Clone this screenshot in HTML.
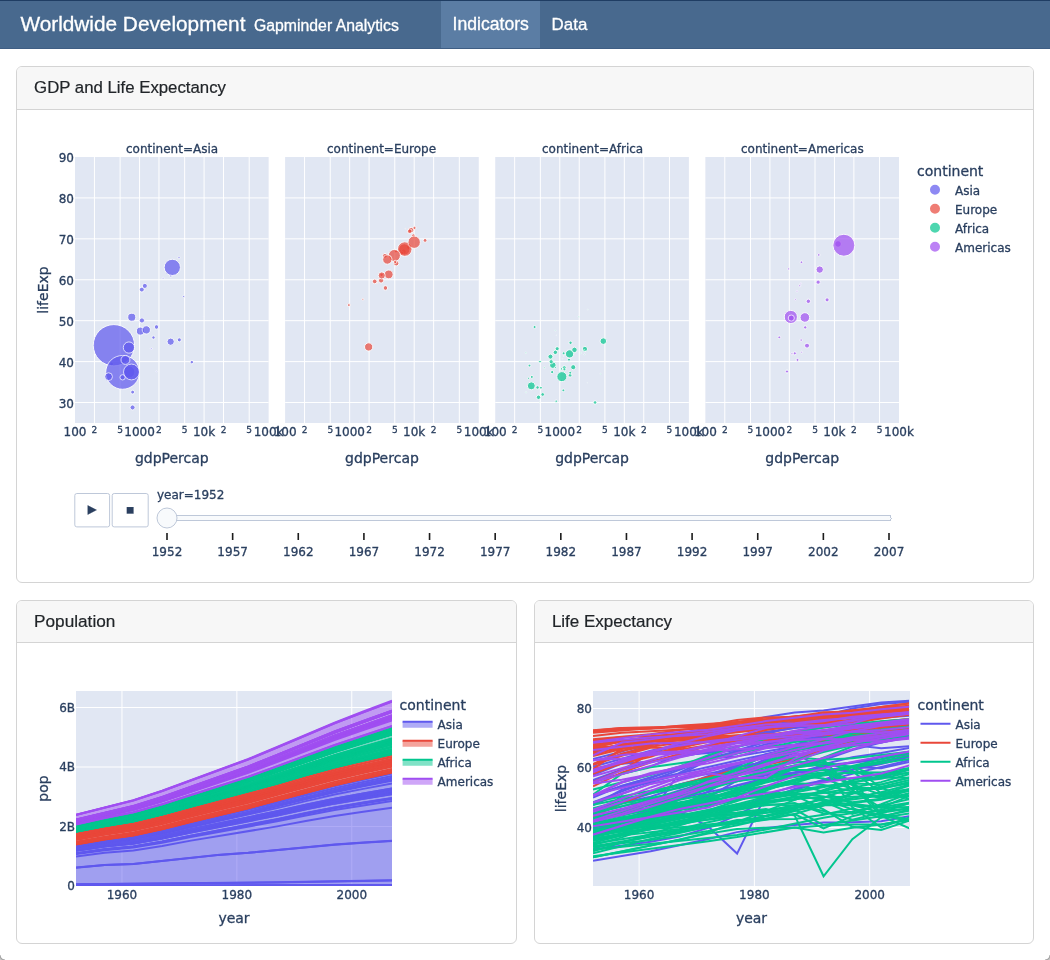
<!DOCTYPE html>
<html lang="en"><head><meta charset="utf-8"><title>Worldwide Development</title>
<style>
*{box-sizing:border-box}
html,body{margin:0;padding:0}
body{width:1050px;height:960px;overflow:hidden;background:#fff;font-family:"Liberation Sans",Arial,sans-serif;font-size:16px;color:#212529;position:relative}
.nav{position:absolute;left:0;top:0;width:1050px;height:48.8px;background:#48698e;border-top:1px solid #1f3d63;border-bottom:1px solid #3f5e84;color:#fff}
.nav span{position:absolute;white-space:nowrap;-webkit-text-stroke:0.3px #fff}
.nav .brand{left:20.4px;top:7.6px;font-size:20.8px;line-height:30px}
.nav .sub{left:254px;top:12.7px;font-size:15.8px;line-height:24px}
.nav .tab{top:0;height:46.8px;line-height:47.4px;font-size:17.6px;padding:0 11.6px}
.nav .tab.active{background:#5b7da4}
.cnr{position:absolute;bottom:0;width:5px;height:5px}
.card{position:absolute;background:#fff;border:1px solid #d4d4d4;border-radius:6px;overflow:hidden}
.card .hd{height:42.6px;background:#f7f7f7;border-bottom:1px solid #d4d4d4;padding:0 0 0 17px;font-size:17px;line-height:41.8px;white-space:nowrap;-webkit-text-stroke:.2px #212529}
.card .plot{position:absolute;left:16px;top:59.7px}
.plot svg{position:absolute;left:0;top:0;overflow:hidden}
.plot text{white-space:pre;stroke:#2a3f5f;stroke-width:.3px}
.p0{fill:rgb(225, 231, 243);fill-opacity:1;stroke-width:0}
.p1{stroke:rgb(255, 255, 255);stroke-opacity:1;stroke-width:1px}
.p2{opacity:0.7;stroke-width:1px;fill:rgb(95, 88, 238);fill-opacity:1;stroke:rgb(255, 255, 255);stroke-opacity:1}
.p3{stroke-miterlimit:2;opacity:1}
.p4{fill:none}
.p5{font-family:"DejaVu Sans", Verdana, sans-serif;font-size:12px;fill:rgb(42, 63, 95);fill-opacity:1;font-weight:normal;font-style:normal;font-variant:normal;white-space:pre}
.p6{font-family:"DejaVu Sans", Verdana, sans-serif;font-size:9px;fill:rgb(42, 63, 95);fill-opacity:1;font-weight:normal;font-style:normal;font-variant:normal;white-space:pre}
.p7{opacity:0.7;stroke-width:1px;fill:rgb(233, 71, 58);fill-opacity:1;stroke:rgb(255, 255, 255);stroke-opacity:1}
.p8{opacity:0.7;stroke-width:1px;fill:rgb(2, 198, 142);fill-opacity:1;stroke:rgb(255, 255, 255);stroke-opacity:1}
.p9{opacity:0.7;stroke-width:1px;fill:rgb(160, 78, 241);fill-opacity:1;stroke:rgb(255, 255, 255);stroke-opacity:1}
.pa{background:white}
.pb{stroke:rgb(68, 68, 68);stroke-opacity:1;fill:rgb(255, 255, 255);fill-opacity:1;stroke-width:0px}
.pc{font-family:"DejaVu Sans", Verdana, sans-serif;font-size:14px;fill:rgb(42, 63, 95);fill-opacity:1;font-weight:normal;font-style:normal;font-variant:normal;white-space:pre}
.pd{opacity:0.7;stroke-width:2px;fill:rgb(95, 88, 238);fill-opacity:1;stroke:rgb(255, 255, 255);stroke-opacity:1}
.pe{opacity:1}
.pf{fill:rgb(0, 0, 0);fill-opacity:0}
.pg{opacity:0.7;stroke-width:2px;fill:rgb(233, 71, 58);fill-opacity:1;stroke:rgb(255, 255, 255);stroke-opacity:1}
.ph{opacity:0.7;stroke-width:2px;fill:rgb(2, 198, 142);fill-opacity:1;stroke:rgb(255, 255, 255);stroke-opacity:1}
.pi{opacity:0.7;stroke-width:2px;fill:rgb(160, 78, 241);fill-opacity:1;stroke:rgb(255, 255, 255);stroke-opacity:1}
.pj{fill:rgb(128, 139, 164);fill-opacity:1}
.pk{stroke:rgb(190, 200, 217);stroke-opacity:1;fill:rgb(248, 250, 252);fill-opacity:1;stroke-width:1px}
.pl{fill:rgb(28, 28, 28);fill-opacity:1}
.pm{fill:rgb(248, 250, 252);fill-opacity:1}
.pn{opacity:1;font-family:"DejaVu Sans", Verdana, sans-serif;font-size:14px;fill:rgb(42, 63, 95);fill-opacity:1;font-weight:normal;font-style:normal;font-variant:normal;white-space:pre}
.po{stroke-width:1px;stroke:rgb(0, 0, 0);stroke-opacity:0;fill:rgb(0, 0, 0);fill-opacity:0}
.pp{stroke:rgb(190, 200, 217);stroke-opacity:1;fill:rgb(255, 255, 255);fill-opacity:1;stroke-width:1px}
.pq{font-family:"DejaVu Sans", Verdana, sans-serif;font-size:11.5px;fill:rgb(42, 63, 95);fill-opacity:1;font-weight:normal;font-style:normal;font-variant:normal;white-space:pre}
.pr{font-family:"DejaVu Sans", Verdana, sans-serif;font-size:10px;fill:rgb(42, 63, 95);fill-opacity:1;font-weight:normal;font-style:normal;font-variant:normal;white-space:pre}
.ps{stroke:rgb(255, 255, 255);stroke-opacity:1;stroke-width:2px}
.pt{fill:rgb(95, 88, 238);fill-opacity:0.5;stroke-width:0}
.pu{fill:none;stroke:rgb(95, 88, 238);stroke-opacity:1;stroke-width:2px;opacity:1}
.pv{stroke-miterlimit:2}
.pw{fill:rgb(233, 71, 58);fill-opacity:0.5;stroke-width:0}
.px{fill:none;stroke:rgb(233, 71, 58);stroke-opacity:1;stroke-width:2px;opacity:1}
.py{fill:rgb(2, 198, 142);fill-opacity:0.5;stroke-width:0}
.pz{fill:none;stroke:rgb(2, 198, 142);stroke-opacity:1;stroke-width:2px;opacity:1}
.p10{fill:rgb(160, 78, 241);fill-opacity:0.5;stroke-width:0}
.p11{fill:none;stroke:rgb(160, 78, 241);stroke-opacity:1;stroke-width:2px;opacity:1}
.p12{stroke-width:0;fill:rgb(95, 88, 238);fill-opacity:0.5}
.p13{fill:none;stroke:rgb(95, 88, 238);stroke-opacity:1;stroke-width:2px}
.p14{stroke-width:0;fill:rgb(233, 71, 58);fill-opacity:0.5}
.p15{fill:none;stroke:rgb(233, 71, 58);stroke-opacity:1;stroke-width:2px}
.p16{stroke-width:0;fill:rgb(2, 198, 142);fill-opacity:0.5}
.p17{fill:none;stroke:rgb(2, 198, 142);stroke-opacity:1;stroke-width:2px}
.p18{stroke-width:0;fill:rgb(160, 78, 241);fill-opacity:0.5}
.p19{fill:none;stroke:rgb(160, 78, 241);stroke-opacity:1;stroke-width:2px}
</style></head><body>
<div class="nav"><span class="brand">Worldwide Development</span><span class="sub">Gapminder Analytics</span>
<span class="tab active" style="left:441px;width:99px">Indicators</span><span class="tab" style="left:540px;font-size:16.9px">Data</span></div>
<div class="card" style="left:16.1px;top:66.2px;width:1018px;height:516.7px"><div class="hd" style="font-size:16.8px">GDP and Life Expectancy</div><div class="plot" id="p1" style="left:15.9px;top:60.1px"><div style="position:relative;width:983px;height:436px"><svg width="983" height="436" class="pa"><defs><g><clipPath id="p1c0"><rect width="193.64" height="266"/></clipPath><clipPath id="p1c1"><rect width="193.64" height="266"/></clipPath><clipPath id="p1c2"><rect width="193.64" height="266"/></clipPath><clipPath id="p1c3"><rect width="193.64" height="266"/></clipPath></g></defs><g><rect x="42" y="30" width="193.64" height="266" class="p0"/><rect x="252.12" y="30" width="193.64" height="266" class="p0"/><rect x="462.24" y="30" width="193.64" height="266" class="p0"/><rect x="672.36" y="30" width="193.64" height="266" class="p0"/></g><g><g><g><g><path transform="translate(61.43,0)" d="M0,30v266" class="p1"/><path transform="translate(87.12,0)" d="M0,30v266" class="p1"/><path transform="translate(106.55,0)" d="M0,30v266" class="p1"/><path transform="translate(125.98,0)" d="M0,30v266" class="p1"/><path transform="translate(151.66,0)" d="M0,30v266" class="p1"/><path transform="translate(171.09,0)" d="M0,30v266" class="p1"/><path transform="translate(190.52,0)" d="M0,30v266" class="p1"/><path transform="translate(216.21,0)" d="M0,30v266" class="p1"/></g><g><path transform="translate(0,275.54)" d="M42,0h193.64" class="p1"/><path transform="translate(0,234.62)" d="M42,0h193.64" class="p1"/><path transform="translate(0,193.69)" d="M42,0h193.64" class="p1"/><path transform="translate(0,152.77)" d="M42,0h193.64" class="p1"/><path transform="translate(0,111.85)" d="M42,0h193.64" class="p1"/><path transform="translate(0,70.92)" d="M42,0h193.64" class="p1"/></g></g><path/><path/><g><g transform="translate(42,30)" clip-path="url(#p1c0)"><g><g class="p3"><g><path transform="translate(57.56,250.45)" d="M2.54,0A2.54,2.54 0 1,1 0,-2.54A2.54,2.54 0 0,1 2.54,0Z" class="p2"/><path transform="translate(128.72,159.85)" d="M0.3,0A0.3,0.3 0 1,1 0,-0.3A0.3,0.3 0 0,1 0.3,0Z" class="p2"/><path transform="translate(53.91,214.91)" d="M6,0A6,6 0 1,1 0,-6A6,6 0 0,1 6,0Z" class="p2"/><path transform="translate(36.56,207)" d="M1.9,0A1.9,1.9 0 1,1 0,-1.9A1.9,1.9 0 0,1 1.9,0Z" class="p2"/><path transform="translate(38.89,188.25)" d="M20.67,0A20.67,20.67 0 1,1 0,-20.67A20.67,20.67 0 0,1 20.67,0Z" class="p2"/><path transform="translate(95.85,118.84)" d="M1.28,0A1.28,1.28 0 1,1 0,-1.28A1.28,1.28 0 0,1 1.28,0Z" class="p2"/><path transform="translate(47.61,215.37)" d="M16.9,0A16.9,16.9 0 1,1 0,-16.9A16.9,16.9 0 0,1 16.9,0Z" class="p2"/><path transform="translate(56.47,214.98)" d="M7.94,0A7.94,7.94 0 1,1 0,-7.94A7.94,7.94 0 0,1 7.94,0Z" class="p2"/><path transform="translate(95.67,184.69)" d="M3.64,0A3.64,3.64 0 1,1 0,-3.64A3.64,3.64 0 0,1 3.64,0Z" class="p2"/><path transform="translate(104.3,182.84)" d="M2.04,0A2.04,2.04 0 1,1 0,-2.04A2.04,2.04 0 0,1 2.04,0Z" class="p2"/><path transform="translate(104.01,100.71)" d="M1.12,0A1.12,1.12 0 1,1 0,-1.12A1.12,1.12 0 0,1 1.12,0Z" class="p2"/><path transform="translate(97.3,110.37)" d="M8.15,0A8.15,8.15 0 1,1 0,-8.15A8.15,8.15 0 0,1 8.15,0Z" class="p2"/><path transform="translate(76.78,191.69)" d="M0.68,0A0.68,0.68 0 1,1 0,-0.68A0.68,0.68 0 0,1 0.68,0Z" class="p2"/><path transform="translate(66.92,163.46)" d="M2.61,0A2.61,2.61 0 1,1 0,-2.61A2.61,2.61 0 0,1 2.61,0Z" class="p2"/><path transform="translate(65.39,174.12)" d="M4.01,0A4.01,4.01 0 1,1 0,-4.01A4.01,4.01 0 0,1 4.01,0Z" class="p2"/><path transform="translate(195.9,140.92)" d="M0.35,0A0.35,0.35 0 1,1 0,-0.35A0.35,0.35 0 0,1 0.35,0Z" class="p2"/><path transform="translate(108.72,139.43)" d="M1.05,0A1.05,1.05 0 1,1 0,-1.05A1.05,1.05 0 0,1 1.05,0Z" class="p2"/><path transform="translate(81.5,169.98)" d="M2.28,0A2.28,2.28 0 1,1 0,-2.28A2.28,2.28 0 0,1 2.28,0Z" class="p2"/><path transform="translate(57.82,195.43)" d="M0.78,0A0.78,0.78 0 1,1 0,-0.78A0.78,0.78 0 0,1 0.78,0Z" class="p2"/><path transform="translate(33.55,219.68)" d="M3.93,0A3.93,3.93 0 1,1 0,-3.93A3.93,3.93 0 0,1 3.93,0Z" class="p2"/><path transform="translate(47.58,220.34)" d="M2.66,0A2.66,2.66 0 1,1 0,-2.66A2.66,2.66 0 0,1 2.66,0Z" class="p2"/><path transform="translate(81.46,214.53)" d="M0.62,0A0.62,0.62 0 1,1 0,-0.62A0.62,0.62 0 0,1 0.62,0Z" class="p2"/><path transform="translate(53.92,190.55)" d="M5.63,0A5.63,5.63 0 1,1 0,-5.63A5.63,5.63 0 0,1 5.63,0Z" class="p2"/><path transform="translate(71.31,172.89)" d="M4.15,0A4.15,4.15 0 1,1 0,-4.15A4.15,4.15 0 0,1 4.15,0Z" class="p2"/><path transform="translate(116.84,205.13)" d="M1.75,0A1.75,1.75 0 1,1 0,-1.75A1.75,1.75 0 0,1 1.75,0Z" class="p2"/><path transform="translate(88.08,121.15)" d="M0.93,0A0.93,0.93 0 1,1 0,-0.93A0.93,0.93 0 0,1 0.93,0Z" class="p2"/><path transform="translate(66.8,132.62)" d="M2.48,0A2.48,2.48 0 1,1 0,-2.48A2.48,2.48 0 0,1 2.48,0Z" class="p2"/><path transform="translate(78.47,180.54)" d="M1.68,0A1.68,1.68 0 1,1 0,-1.68A1.68,1.68 0 0,1 1.68,0Z" class="p2"/><path transform="translate(69.82,128.91)" d="M2.56,0A2.56,2.56 0 1,1 0,-2.56A2.56,2.56 0 0,1 2.56,0Z" class="p2"/><path transform="translate(56.77,160.22)" d="M4.04,0A4.04,4.04 0 1,1 0,-4.04A4.04,4.04 0 0,1 4.04,0Z" class="p2"/><path transform="translate(50.46,202.93)" d="M4.49,0A4.49,4.49 0 1,1 0,-4.49A4.49,4.49 0 0,1 4.49,0Z" class="p2"/><path transform="translate(76.2,191.68)" d="M0.89,0A0.89,0.89 0 1,1 0,-0.89A0.89,0.89 0 0,1 0.89,0Z" class="p2"/><path transform="translate(57.64,235.11)" d="M1.95,0A1.95,1.95 0 1,1 0,-1.95A1.95,1.95 0 0,1 1.95,0Z" class="p2"/></g></g></g></g></g><path d="M0,0" class="p4"/><path d="M0,0" class="p4"/><g><g><text text-anchor="middle" x="0" y="309" transform="translate(42,0)" class="p5">100</text></g><g><text text-anchor="middle" x="0" y="306" class="p6" transform="translate(61.43,0)">2</text></g><g><text text-anchor="middle" x="0" y="306" class="p6" transform="translate(87.12,0)">5</text></g><g><text text-anchor="middle" x="0" y="309" class="p5" transform="translate(106.55,0)">1000</text></g><g><text text-anchor="middle" x="0" y="306" class="p6" transform="translate(125.98,0)">2</text></g><g><text text-anchor="middle" x="0" y="306" class="p6" transform="translate(151.66,0)">5</text></g><g><text text-anchor="middle" x="0" y="309" class="p5" transform="translate(171.09,0)">10k</text></g><g><text text-anchor="middle" x="0" y="306" class="p6" transform="translate(190.52,0)">2</text></g><g><text text-anchor="middle" x="0" y="306" class="p6" transform="translate(216.21,0)">5</text></g><g><text text-anchor="middle" x="0" y="309" class="p5" transform="translate(235.64,0)">100k</text></g></g><g><g><text text-anchor="end" x="41" y="5.20" transform="translate(0,275.54)" class="p5">30</text></g><g><text text-anchor="end" x="41" y="5.20" class="p5" transform="translate(0,234.62)">40</text></g><g><text text-anchor="end" x="41" y="5.20" class="p5" transform="translate(0,193.69)">50</text></g><g><text text-anchor="end" x="41" y="5.20" class="p5" transform="translate(0,152.77)">60</text></g><g><text text-anchor="end" x="41" y="5.20" class="p5" transform="translate(0,111.85)">70</text></g><g><text text-anchor="end" x="41" y="5.20" class="p5" transform="translate(0,70.92)">80</text></g><g><text text-anchor="end" x="41" y="5.20" class="p5" transform="translate(0,30)">90</text></g></g></g><g><g><g><path transform="translate(271.55,0)" d="M0,30v266" class="p1"/><path transform="translate(297.24,0)" d="M0,30v266" class="p1"/><path transform="translate(316.67,0)" d="M0,30v266" class="p1"/><path transform="translate(336.1,0)" d="M0,30v266" class="p1"/><path transform="translate(361.78,0)" d="M0,30v266" class="p1"/><path transform="translate(381.21,0)" d="M0,30v266" class="p1"/><path transform="translate(400.64,0)" d="M0,30v266" class="p1"/><path transform="translate(426.33,0)" d="M0,30v266" class="p1"/></g><g><path transform="translate(0,275.54)" d="M252.12,0h193.64" class="p1"/><path transform="translate(0,234.62)" d="M252.12,0h193.64" class="p1"/><path transform="translate(0,193.69)" d="M252.12,0h193.64" class="p1"/><path transform="translate(0,152.77)" d="M252.12,0h193.64" class="p1"/><path transform="translate(0,111.85)" d="M252.12,0h193.64" class="p1"/><path transform="translate(0,70.92)" d="M252.12,0h193.64" class="p1"/></g></g><path/><path/><g><g transform="translate(252.12,30)" clip-path="url(#p1c1)"><g><g class="p3"><g><path transform="translate(77.74,142.29)" d="M0.99,0A0.99,0.99 0 1,1 0,-0.99A0.99,0.99 0 0,1 0.99,0Z" class="p7"/><path transform="translate(115.41,94.94)" d="M2.31,0A2.31,2.31 0 1,1 0,-2.31A2.31,2.31 0 0,1 2.31,0Z" class="p7"/><path transform="translate(124.02,90.03)" d="M2.59,0A2.59,2.59 0 1,1 0,-2.59A2.59,2.59 0 0,1 2.59,0Z" class="p7"/><path transform="translate(63.79,148.06)" d="M1.46,0A1.46,1.46 0 1,1 0,-1.46A1.46,1.46 0 0,1 1.46,0Z" class="p7"/><path transform="translate(89.6,124.41)" d="M2.36,0A2.36,2.36 0 1,1 0,-2.36A2.36,2.36 0 0,1 2.36,0Z" class="p7"/><path transform="translate(96.44,117.82)" d="M1.73,0A1.73,1.73 0 1,1 0,-1.73A1.73,1.73 0 0,1 1.73,0Z" class="p7"/><path transform="translate(118.59,94.66)" d="M2.65,0A2.65,2.65 0 1,1 0,-2.65A2.65,2.65 0 0,1 2.65,0Z" class="p7"/><path transform="translate(128.22,78.65)" d="M1.82,0A1.82,1.82 0 1,1 0,-1.82A1.82,1.82 0 0,1 1.82,0Z" class="p7"/><path transform="translate(116.69,95.96)" d="M1.77,0A1.77,1.77 0 1,1 0,-1.77A1.77,1.77 0 0,1 1.77,0Z" class="p7"/><path transform="translate(119.21,92.45)" d="M5.71,0A5.71,5.71 0 1,1 0,-5.71A5.71,5.71 0 0,1 5.71,0Z" class="p7"/><path transform="translate(119.67,92.08)" d="M7.29,0A7.29,7.29 0 1,1 0,-7.29A7.29,7.29 0 0,1 7.29,0Z" class="p7"/><path transform="translate(99.91,98.79)" d="M2.44,0A2.44,2.44 0 1,1 0,-2.44A2.44,2.44 0 0,1 2.44,0Z" class="p7"/><path transform="translate(111.1,106.28)" d="M2.7,0A2.7,2.7 0 1,1 0,-2.7A2.7,2.7 0 0,1 2.7,0Z" class="p7"/><path transform="translate(120.15,71.66)" d="M0.34,0A0.34,0.34 0 1,1 0,-0.34A0.34,0.34 0 0,1 0.34,0Z" class="p7"/><path transform="translate(110.82,94.49)" d="M1.51,0A1.51,1.51 0 1,1 0,-1.51A1.51,1.51 0 0,1 1.51,0Z" class="p7"/><path transform="translate(109.28,98.46)" d="M6.05,0A6.05,6.05 0 1,1 0,-6.05A6.05,6.05 0 0,1 6.05,0Z" class="p7"/><path transform="translate(91.84,126.19)" d="M0.56,0A0.56,0.56 0 1,1 0,-0.56A0.56,0.56 0 0,1 0.56,0Z" class="p7"/><path transform="translate(125.96,73.13)" d="M2.82,0A2.82,2.82 0 1,1 0,-2.82A2.82,2.82 0 0,1 2.82,0Z" class="p7"/><path transform="translate(129.36,70.92)" d="M1.6,0A1.6,1.6 0 1,1 0,-1.6A1.6,1.6 0 0,1 1.6,0Z" class="p7"/><path transform="translate(103.61,117.41)" d="M4.44,0A4.44,4.44 0 1,1 0,-4.44A4.44,4.44 0 0,1 4.44,0Z" class="p7"/><path transform="translate(95.97,123.51)" d="M2.56,0A2.56,2.56 0 1,1 0,-2.56A2.56,2.56 0 0,1 2.56,0Z" class="p7"/><path transform="translate(96.66,118.47)" d="M3.57,0A3.57,3.57 0 1,1 0,-3.57A3.57,3.57 0 0,1 3.57,0Z" class="p7"/><path transform="translate(100.31,130.97)" d="M2.3,0A2.3,2.3 0 1,1 0,-2.3A2.3,2.3 0 0,1 2.3,0Z" class="p7"/><path transform="translate(110.08,104.93)" d="M1.65,0A1.65,1.65 0 1,1 0,-1.65A1.65,1.65 0 0,1 1.65,0Z" class="p7"/><path transform="translate(104.88,99.98)" d="M1.07,0A1.07,1.07 0 1,1 0,-1.07A1.07,1.07 0 0,1 1.07,0Z" class="p7"/><path transform="translate(102.22,102.55)" d="M4.68,0A4.68,4.68 0 1,1 0,-4.68A4.68,4.68 0 0,1 4.68,0Z" class="p7"/><path transform="translate(124.63,74.23)" d="M2.34,0A2.34,2.34 0 1,1 0,-2.34A2.34,2.34 0 0,1 2.34,0Z" class="p7"/><path transform="translate(139.96,83.4)" d="M1.92,0A1.92,1.92 0 1,1 0,-1.92A1.92,1.92 0 0,1 1.92,0Z" class="p7"/><path transform="translate(83.54,189.94)" d="M4.13,0A4.13,4.13 0 1,1 0,-4.13A4.13,4.13 0 0,1 4.13,0Z" class="p7"/><path transform="translate(129.04,85.2)" d="M6.22,0A6.22,6.22 0 1,1 0,-6.22A6.22,6.22 0 0,1 6.22,0Z" class="p7"/></g></g></g></g></g><path d="M0,0" class="p4"/><path d="M0,0" class="p4"/><g><g><text text-anchor="middle" x="0" y="309" transform="translate(252.12,0)" class="p5">100</text></g><g><text text-anchor="middle" x="0" y="306" class="p6" transform="translate(271.55,0)">2</text></g><g><text text-anchor="middle" x="0" y="306" class="p6" transform="translate(297.24,0)">5</text></g><g><text text-anchor="middle" x="0" y="309" class="p5" transform="translate(316.67,0)">1000</text></g><g><text text-anchor="middle" x="0" y="306" class="p6" transform="translate(336.1,0)">2</text></g><g><text text-anchor="middle" x="0" y="306" class="p6" transform="translate(361.78,0)">5</text></g><g><text text-anchor="middle" x="0" y="309" class="p5" transform="translate(381.21,0)">10k</text></g><g><text text-anchor="middle" x="0" y="306" class="p6" transform="translate(400.64,0)">2</text></g><g><text text-anchor="middle" x="0" y="306" class="p6" transform="translate(426.33,0)">5</text></g><g><text text-anchor="middle" x="0" y="309" class="p5" transform="translate(445.76,0)">100k</text></g></g></g><g><g><g><path transform="translate(481.67,0)" d="M0,30v266" class="p1"/><path transform="translate(507.36,0)" d="M0,30v266" class="p1"/><path transform="translate(526.79,0)" d="M0,30v266" class="p1"/><path transform="translate(546.22,0)" d="M0,30v266" class="p1"/><path transform="translate(571.9,0)" d="M0,30v266" class="p1"/><path transform="translate(591.33,0)" d="M0,30v266" class="p1"/><path transform="translate(610.76,0)" d="M0,30v266" class="p1"/><path transform="translate(636.45,0)" d="M0,30v266" class="p1"/></g><g><path transform="translate(0,275.54)" d="M462.24,0h193.64" class="p1"/><path transform="translate(0,234.62)" d="M462.24,0h193.64" class="p1"/><path transform="translate(0,193.69)" d="M462.24,0h193.64" class="p1"/><path transform="translate(0,152.77)" d="M462.24,0h193.64" class="p1"/><path transform="translate(0,111.85)" d="M462.24,0h193.64" class="p1"/><path transform="translate(0,70.92)" d="M462.24,0h193.64" class="p1"/></g></g><path/><path/><g><g transform="translate(462.24,30)" clip-path="url(#p1c2)"><g><g class="p3"><g><path transform="translate(89.65,192.02)" d="M2.67,0A2.67,2.67 0 1,1 0,-2.67A2.67,2.67 0 0,1 2.67,0Z" class="p8"/><path transform="translate(99.83,245.48)" d="M1.8,0A1.8,1.8 0 1,1 0,-1.8A1.8,1.8 0 0,1 1.8,0Z" class="p8"/><path transform="translate(66.25,211.89)" d="M1.16,0A1.16,1.16 0 1,1 0,-1.16A1.16,1.16 0 0,1 1.16,0Z" class="p8"/><path transform="translate(60.03,173.42)" d="M0.58,0A0.58,0.58 0 1,1 0,-0.58A0.58,0.58 0 0,1 0.58,0Z" class="p8"/><path transform="translate(47.44,237.46)" d="M1.85,0A1.85,1.85 0 1,1 0,-1.85A1.85,1.85 0 0,1 1.85,0Z" class="p8"/><path transform="translate(34.25,208.58)" d="M1.37,0A1.37,1.37 0 1,1 0,-1.37A1.37,1.37 0 0,1 1.37,0Z" class="p8"/><path transform="translate(69.01,210.66)" d="M1.96,0A1.96,1.96 0 1,1 0,-1.96A1.96,1.96 0 0,1 1.96,0Z" class="p8"/><path transform="translate(66.48,223.18)" d="M1,0A1,1 0 1,1 0,-1A1,1 0 0,1 1,0Z" class="p8"/><path transform="translate(69.15,212.42)" d="M1.44,0A1.44,1.44 0 1,1 0,-1.44A1.44,1.44 0 0,1 1.44,0Z" class="p8"/><path transform="translate(67.29,201.69)" d="M0.34,0A0.34,0.34 0 1,1 0,-0.34A0.34,0.34 0 0,1 0.34,0Z" class="p8"/><path transform="translate(57.6,208.12)" d="M3.29,0A3.29,3.29 0 1,1 0,-3.29A3.29,3.29 0 0,1 3.29,0Z" class="p8"/><path transform="translate(85.68,195.98)" d="M0.81,0A0.81,0.81 0 1,1 0,-0.81A0.81,0.81 0 0,1 0.81,0Z" class="p8"/><path transform="translate(73.75,202.66)" d="M1.51,0A1.51,1.51 0 1,1 0,-1.51A1.51,1.51 0 0,1 1.51,0Z" class="p8"/><path transform="translate(92.07,225.85)" d="M0.22,0A0.22,0.22 0 1,1 0,-0.22A0.22,0.22 0 0,1 0.22,0Z" class="p8"/><path transform="translate(74.35,196.87)" d="M4.13,0A4.13,4.13 0 1,1 0,-4.13A4.13,4.13 0 0,1 4.13,0Z" class="p8"/><path transform="translate(37.1,227.2)" d="M0.41,0A0.41,0.41 0 1,1 0,-0.41A0.41,0.41 0 0,1 0.41,0Z" class="p8"/><path transform="translate(33.38,221.28)" d="M1.05,0A1.05,1.05 0 1,1 0,-1.05A1.05,1.05 0 0,1 1.05,0Z" class="p8"/><path transform="translate(36.07,228.85)" d="M4,0A4,4 0 1,1 0,-4A4,4 0 0,1 4,0Z" class="p8"/><path transform="translate(105.39,216.88)" d="M0.57,0A0.57,0.57 0 1,1 0,-0.57A0.57,0.57 0 0,1 0.57,0Z" class="p8"/><path transform="translate(44.28,245.54)" d="M0.47,0A0.47,0.47 0 1,1 0,-0.47A0.47,0.47 0 0,1 0.47,0Z" class="p8"/><path transform="translate(61.94,191.73)" d="M2.07,0A2.07,2.07 0 1,1 0,-2.07A2.07,2.07 0 0,1 2.07,0Z" class="p8"/><path transform="translate(45.68,230.77)" d="M1.43,0A1.43,1.43 0 1,1 0,-1.43A1.43,1.43 0 0,1 1.43,0Z" class="p8"/><path transform="translate(30.78,235.31)" d="M0.67,0A0.67,0.67 0 1,1 0,-0.67A0.67,0.67 0 0,1 0.67,0Z" class="p8"/><path transform="translate(60.11,195.33)" d="M2.23,0A2.23,2.23 0 1,1 0,-2.23A2.23,2.23 0 0,1 2.23,0Z" class="p8"/><path transform="translate(30.69,195.87)" d="M0.76,0A0.76,0.76 0 1,1 0,-0.76A0.76,0.76 0 0,1 0.76,0Z" class="p8"/><path transform="translate(49.06,210.84)" d="M0.81,0A0.81,0.81 0 1,1 0,-0.81A0.81,0.81 0 0,1 0.81,0Z" class="p8"/><path transform="translate(88.94,193.47)" d="M0.88,0A0.88,0.88 0 1,1 0,-0.88A0.88,0.88 0 0,1 0.88,0Z" class="p8"/><path transform="translate(74.83,218.2)" d="M1.91,0A1.91,1.91 0 1,1 0,-1.91A1.91,1.91 0 0,1 1.91,0Z" class="p8"/><path transform="translate(36.61,219.94)" d="M1.5,0A1.5,1.5 0 1,1 0,-1.5A1.5,1.5 0 0,1 1.5,0Z" class="p8"/><path transform="translate(42.31,230.46)" d="M1.72,0A1.72,1.72 0 1,1 0,-1.72A1.72,1.72 0 0,1 1.72,0Z" class="p8"/><path transform="translate(56.22,202.39)" d="M0.89,0A0.89,0.89 0 1,1 0,-0.89A0.89,0.89 0 0,1 0.89,0Z" class="p8"/><path transform="translate(83.52,159.66)" d="M0.63,0A0.63,0.63 0 1,1 0,-0.63A0.63,0.63 0 0,1 0.63,0Z" class="p8"/><path transform="translate(79.23,192.86)" d="M2.76,0A2.76,2.76 0 1,1 0,-2.76A2.76,2.76 0 0,1 2.76,0Z" class="p8"/><path transform="translate(43.29,240.28)" d="M2.22,0A2.22,2.22 0 1,1 0,-2.22A2.22,2.22 0 0,1 2.22,0Z" class="p8"/><path transform="translate(89.36,197.56)" d="M0.61,0A0.61,0.61 0 1,1 0,-0.61A0.61,0.61 0 0,1 0.61,0Z" class="p8"/><path transform="translate(56.92,215.08)" d="M1.61,0A1.61,1.61 0 1,1 0,-1.61A1.61,1.61 0 0,1 1.61,0Z" class="p8"/><path transform="translate(66.63,219.66)" d="M5.04,0A5.04,5.04 0 1,1 0,-5.04A5.04,5.04 0 0,1 5.04,0Z" class="p8"/><path transform="translate(92.59,152.54)" d="M0.44,0A0.44,0.44 0 1,1 0,-0.44A0.44,0.44 0 0,1 0.44,0Z" class="p8"/><path transform="translate(44.74,204.62)" d="M1.4,0A1.4,1.4 0 1,1 0,-1.4A1.4,1.4 0 0,1 1.4,0Z" class="p8"/><path transform="translate(60.95,178.13)" d="M0.21,0A0.21,0.21 0 1,1 0,-0.21A0.21,0.21 0 0,1 0.21,0Z" class="p8"/><path transform="translate(74.97,215.75)" d="M1.45,0A1.45,1.45 0 1,1 0,-1.45A1.45,1.45 0 0,1 1.45,0Z" class="p8"/><path transform="translate(60.96,244.18)" d="M1.28,0A1.28,1.28 0 1,1 0,-1.28A1.28,1.28 0 0,1 1.28,0Z" class="p8"/><path transform="translate(68.11,233.35)" d="M1.39,0A1.39,1.39 0 1,1 0,-1.39A1.39,1.39 0 0,1 1.39,0Z" class="p8"/><path transform="translate(108.08,184.12)" d="M3.31,0A3.31,3.31 0 1,1 0,-3.31A3.31,3.31 0 0,1 3.31,0Z" class="p8"/><path transform="translate(78,210.2)" d="M2.56,0A2.56,2.56 0 1,1 0,-2.56A2.56,2.56 0 0,1 2.56,0Z" class="p8"/><path transform="translate(68.42,198.86)" d="M0.47,0A0.47,0.47 0 1,1 0,-0.47A0.47,0.47 0 0,1 0.47,0Z" class="p8"/><path transform="translate(55.21,199.64)" d="M2.53,0A2.53,2.53 0 1,1 0,-2.53A2.53,2.53 0 0,1 2.53,0Z" class="p8"/><path transform="translate(60.31,210.36)" d="M0.97,0A0.97,0.97 0 1,1 0,-0.97A0.97,0.97 0 0,1 0.97,0Z" class="p8"/><path transform="translate(75.32,185.79)" d="M1.67,0A1.67,1.67 0 1,1 0,-1.67A1.67,1.67 0 0,1 1.67,0Z" class="p8"/><path transform="translate(55.91,204.71)" d="M2.11,0A2.11,2.11 0 1,1 0,-2.11A2.11,2.11 0 0,1 2.11,0Z" class="p8"/><path transform="translate(68.4,196.28)" d="M1.43,0A1.43,1.43 0 1,1 0,-1.43A1.43,1.43 0 0,1 1.43,0Z" class="p8"/><path transform="translate(39.34,170.03)" d="M1.54,0A1.54,1.54 0 1,1 0,-1.54A1.54,1.54 0 0,1 1.54,0Z" class="p8"/></g></g></g></g></g><path d="M0,0" class="p4"/><path d="M0,0" class="p4"/><g><g><text text-anchor="middle" x="0" y="309" transform="translate(462.24,0)" class="p5">100</text></g><g><text text-anchor="middle" x="0" y="306" class="p6" transform="translate(481.67,0)">2</text></g><g><text text-anchor="middle" x="0" y="306" class="p6" transform="translate(507.36,0)">5</text></g><g><text text-anchor="middle" x="0" y="309" class="p5" transform="translate(526.79,0)">1000</text></g><g><text text-anchor="middle" x="0" y="306" class="p6" transform="translate(546.22,0)">2</text></g><g><text text-anchor="middle" x="0" y="306" class="p6" transform="translate(571.9,0)">5</text></g><g><text text-anchor="middle" x="0" y="309" class="p5" transform="translate(591.33,0)">10k</text></g><g><text text-anchor="middle" x="0" y="306" class="p6" transform="translate(610.76,0)">2</text></g><g><text text-anchor="middle" x="0" y="306" class="p6" transform="translate(636.45,0)">5</text></g><g><text text-anchor="middle" x="0" y="309" class="p5" transform="translate(655.88,0)">100k</text></g></g></g><g><g><g><path transform="translate(691.79,0)" d="M0,30v266" class="p1"/><path transform="translate(717.48,0)" d="M0,30v266" class="p1"/><path transform="translate(736.91,0)" d="M0,30v266" class="p1"/><path transform="translate(756.34,0)" d="M0,30v266" class="p1"/><path transform="translate(782.02,0)" d="M0,30v266" class="p1"/><path transform="translate(801.45,0)" d="M0,30v266" class="p1"/><path transform="translate(820.88,0)" d="M0,30v266" class="p1"/><path transform="translate(846.57,0)" d="M0,30v266" class="p1"/></g><g><path transform="translate(0,275.54)" d="M672.36,0h193.64" class="p1"/><path transform="translate(0,234.62)" d="M672.36,0h193.64" class="p1"/><path transform="translate(0,193.69)" d="M672.36,0h193.64" class="p1"/><path transform="translate(0,152.77)" d="M672.36,0h193.64" class="p1"/><path transform="translate(0,111.85)" d="M672.36,0h193.64" class="p1"/><path transform="translate(0,70.92)" d="M672.36,0h193.64" class="p1"/></g></g><path/><path/><g><g transform="translate(672.36,30)" clip-path="url(#p1c3)"><g><g class="p3"><g><path transform="translate(114.36,112.6)" d="M3.7,0A3.7,3.7 0 1,1 0,-3.7A3.7,3.7 0 0,1 3.7,0Z" class="p9"/><path transform="translate(92.15,202.92)" d="M1.49,0A1.49,1.49 0 1,1 0,-1.49A1.49,1.49 0 0,1 1.49,0Z" class="p9"/><path transform="translate(85.46,159.94)" d="M6.59,0A6.59,6.59 0 1,1 0,-6.59A6.59,6.59 0 0,1 6.59,0Z" class="p9"/><path transform="translate(132.69,86.96)" d="M3.37,0A3.37,3.37 0 1,1 0,-3.37A3.37,3.37 0 0,1 3.37,0Z" class="p9"/><path transform="translate(102.98,144.27)" d="M2.21,0A2.21,2.21 0 1,1 0,-2.21A2.21,2.21 0 0,1 2.21,0Z" class="p9"/><path transform="translate(85.93,161.06)" d="M3.08,0A3.08,3.08 0 1,1 0,-3.08A3.08,3.08 0 0,1 3.08,0Z" class="p9"/><path transform="translate(91.62,134.2)" d="M0.84,0A0.84,0.84 0 1,1 0,-0.84A0.84,0.84 0 0,1 0.84,0Z" class="p9"/><path transform="translate(112.77,125.14)" d="M2.15,0A2.15,2.15 0 1,1 0,-2.15A2.15,2.15 0 0,1 2.15,0Z" class="p9"/><path transform="translate(73.93,180.36)" d="M1.38,0A1.38,1.38 0 1,1 0,-1.38A1.38,1.38 0 0,1 1.38,0Z" class="p9"/><path transform="translate(99.84,170.42)" d="M1.65,0A1.65,1.65 0 1,1 0,-1.65A1.65,1.65 0 0,1 1.65,0Z" class="p9"/><path transform="translate(95.79,183.08)" d="M1.25,0A1.25,1.25 0 1,1 0,-1.25A1.25,1.25 0 0,1 1.25,0Z" class="p9"/><path transform="translate(89.42,196.34)" d="M1.55,0A1.55,1.55 0 1,1 0,-1.55A1.55,1.55 0 0,1 1.55,0Z" class="p9"/><path transform="translate(81.65,214.52)" d="M1.57,0A1.57,1.57 0 1,1 0,-1.57A1.57,1.57 0 0,1 1.57,0Z" class="p9"/><path transform="translate(86.58,196.79)" d="M1.08,0A1.08,1.08 0 1,1 0,-1.08A1.08,1.08 0 0,1 1.08,0Z" class="p9"/><path transform="translate(94.38,128.78)" d="M1.05,0A1.05,1.05 0 1,1 0,-1.05A1.05,1.05 0 0,1 1.05,0Z" class="p9"/><path transform="translate(99.49,160.46)" d="M4.81,0A4.81,4.81 0 1,1 0,-4.81A4.81,4.81 0 0,1 4.81,0Z" class="p9"/><path transform="translate(96.37,195.15)" d="M0.95,0A0.95,0.95 0 1,1 0,-0.95A0.95,0.95 0 0,1 0.95,0Z" class="p9"/><path transform="translate(90.01,142.45)" d="M0.85,0A0.85,0.85 0 1,1 0,-0.85A0.85,0.85 0 0,1 0.85,0Z" class="p9"/><path transform="translate(83.3,111.93)" d="M1.09,0A1.09,1.09 0 1,1 0,-1.09A1.09,1.09 0 0,1 1.09,0Z" class="p9"/><path transform="translate(101.66,188.65)" d="M2.48,0A2.48,2.48 0 1,1 0,-2.48A2.48,2.48 0 0,1 2.48,0Z" class="p9"/><path transform="translate(96.1,105.25)" d="M1.31,0A1.31,1.31 0 1,1 0,-1.31A1.31,1.31 0 0,1 1.31,0Z" class="p9"/><path transform="translate(95.56,126.45)" d="M0.71,0A0.71,0.71 0 1,1 0,-0.71A0.71,0.71 0 0,1 0.71,0Z" class="p9"/><path transform="translate(138.51,88.23)" d="M11,0A11,11 0 1,1 0,-11A11,11 0 0,1 11,0Z" class="p9"/><path transform="translate(113.42,97.92)" d="M1.32,0A1.32,1.32 0 1,1 0,-1.32A1.32,1.32 0 0,1 1.32,0Z" class="p9"/><path transform="translate(121.73,142.87)" d="M2.04,0A2.04,2.04 0 1,1 0,-2.04A2.04,2.04 0 0,1 2.04,0Z" class="p9"/></g></g></g></g></g><path d="M0,0" class="p4"/><path d="M0,0" class="p4"/><g><g><text text-anchor="middle" x="0" y="309" transform="translate(672.36,0)" class="p5">100</text></g><g><text text-anchor="middle" x="0" y="306" class="p6" transform="translate(691.79,0)">2</text></g><g><text text-anchor="middle" x="0" y="306" class="p6" transform="translate(717.48,0)">5</text></g><g><text text-anchor="middle" x="0" y="309" class="p5" transform="translate(736.91,0)">1000</text></g><g><text text-anchor="middle" x="0" y="306" class="p6" transform="translate(756.34,0)">2</text></g><g><text text-anchor="middle" x="0" y="306" class="p6" transform="translate(782.02,0)">5</text></g><g><text text-anchor="middle" x="0" y="309" class="p5" transform="translate(801.45,0)">10k</text></g><g><text text-anchor="middle" x="0" y="306" class="p6" transform="translate(820.88,0)">2</text></g><g><text text-anchor="middle" x="0" y="306" class="p6" transform="translate(846.57,0)">5</text></g><g><text text-anchor="middle" x="0" y="309" class="p5" transform="translate(866,0)">100k</text></g></g></g></g></svg><svg width="983" height="436"><defs><clipPath id="p1c4"><rect width="101" height="105" x="0" y="0"/></clipPath></defs><g><g transform="translate(882,30)"><rect shape-rendering="crispEdges" class="pb" width="101" height="105" x="0" y="0"/><g clip-path="url(#p1c4)"><text text-anchor="start" x="2" y="19.20" class="pc">continent</text><g><g transform="translate(0,32.7)" class="pe"><text text-anchor="start" x="40" y="5.68" class="p5">Asia</text><g class="pe"><g><g><path transform="translate(20,0)" d="M6,0A6,6 0 1,1 0,-6A6,6 0 0,1 6,0Z" class="pd"/></g></g></g><rect x="0" y="-9.5" width="95.77" height="19" class="pf"/></g></g><g><g transform="translate(0,51.7)" class="pe"><text text-anchor="start" x="40" y="5.68" class="p5">Europe</text><g class="pe"><g><g><path transform="translate(20,0)" d="M6,0A6,6 0 1,1 0,-6A6,6 0 0,1 6,0Z" class="pg"/></g></g></g><rect x="0" y="-9.5" width="95.77" height="19" class="pf"/></g></g><g><g transform="translate(0,70.7)" class="pe"><text text-anchor="start" x="40" y="5.68" class="p5">Africa</text><g class="pe"><g><g><path transform="translate(20,0)" d="M6,0A6,6 0 1,1 0,-6A6,6 0 0,1 6,0Z" class="ph"/></g></g></g><rect x="0" y="-9.5" width="95.77" height="19" class="pf"/></g></g><g><g transform="translate(0,89.7)" class="pe"><text text-anchor="start" x="40" y="5.68" class="p5">Americas</text><g class="pe"><g><g><path transform="translate(20,0)" d="M6,0A6,6 0 1,1 0,-6A6,6 0 0,1 6,0Z" class="pi"/></g></g></g><rect x="0" y="-9.5" width="95.77" height="19" class="pf"/></g></g></g><rect rx="20" ry="3" width="0" height="0" class="pj" x="0" y="0"/></g><g><g transform="translate(124,356)"><text text-anchor="left" x="0" y="15.6" class="p5">year=1952</text><rect width="726" height="5" rx="2" ry="2" shape-rendering="crispEdges" transform="translate(0,1)translate(8,31.5)" class="pk"/><g transform="translate(0,1)"><g transform="translate(10,71.6)"><text text-anchor="middle" x="0" y="0" class="p5">1952</text></g><g transform="translate(75.64,71.6)"><text text-anchor="middle" x="0" y="0" class="p5">1957</text></g><g transform="translate(141.27,71.6)"><text text-anchor="middle" x="0" y="0" class="p5">1962</text></g><g transform="translate(206.91,71.6)"><text text-anchor="middle" x="0" y="0" class="p5">1967</text></g><g transform="translate(272.55,71.6)"><text text-anchor="middle" x="0" y="0" class="p5">1972</text></g><g transform="translate(338.18,71.6)"><text text-anchor="middle" x="0" y="0" class="p5">1977</text></g><g transform="translate(403.82,71.6)"><text text-anchor="middle" x="0" y="0" class="p5">1982</text></g><g transform="translate(469.45,71.6)"><text text-anchor="middle" x="0" y="0" class="p5">1987</text></g><g transform="translate(535.09,71.6)"><text text-anchor="middle" x="0" y="0" class="p5">1992</text></g><g transform="translate(600.73,71.6)"><text text-anchor="middle" x="0" y="0" class="p5">1997</text></g><g transform="translate(666.36,71.6)"><text text-anchor="middle" x="0" y="0" class="p5">2002</text></g><g transform="translate(732,71.6)"><text text-anchor="middle" x="0" y="0" class="p5">2007</text></g></g><rect width="1.6" height="7" transform="translate(0,1)translate(9.5,49)" class="pl" x="-0.3"/><rect width="1.6" height="7" transform="translate(0,1)translate(75.14,49)" class="pl" x="-0.3"/><rect width="1.6" height="7" transform="translate(0,1)translate(140.77,49)" class="pl" x="-0.3"/><rect width="1.6" height="7" transform="translate(0,1)translate(206.41,49)" class="pl" x="-0.3"/><rect width="1.6" height="7" transform="translate(0,1)translate(272.05,49)" class="pl" x="-0.3"/><rect width="1.6" height="7" transform="translate(0,1)translate(337.68,49)" class="pl" x="-0.3"/><rect width="1.6" height="7" transform="translate(0,1)translate(403.32,49)" class="pl" x="-0.3"/><rect width="1.6" height="7" transform="translate(0,1)translate(468.95,49)" class="pl" x="-0.3"/><rect width="1.6" height="7" transform="translate(0,1)translate(534.59,49)" class="pl" x="-0.3"/><rect width="1.6" height="7" transform="translate(0,1)translate(600.23,49)" class="pl" x="-0.3"/><rect width="1.6" height="7" transform="translate(0,1)translate(665.86,49)" class="pl" x="-0.3"/><rect width="1.6" height="7" transform="translate(0,1)translate(731.5,49)" class="pl" x="-0.3"/><rect width="742" height="46" opacity="0" transform="translate(0,24)" class="pm"/><rect width="20" height="20" rx="10" ry="10" transform="translate(0,1)translate(0,24)" class="pk"/></g></g><g><text x="138.82" y="336.3" text-anchor="middle" class="pn">gdpPercap</text></g><g><text x="348.94" y="336.3" text-anchor="middle" class="pn">gdpPercap</text></g><g><text x="559.06" y="336.3" text-anchor="middle" class="pn">gdpPercap</text></g><g><text x="769.18" y="336.3" text-anchor="middle" class="pn">gdpPercap</text></g><g transform="translate(2,0)translate(6.68,0)"><text transform="rotate(-90,6.32,163)" x="6.32" y="163" text-anchor="middle" class="pn">lifeExp</text></g><g class="pe"><g transform="rotate(0,138.82,21)"><g transform="translate(91,12)"><rect x="0.5" y="0.5" width="95" height="17" class="po"/><text text-anchor="middle" x="48.05" y="14.00" class="p5">continent=Asia</text></g></g></g><g class="pe"><g transform="rotate(0,348.94,21)"><g transform="translate(292,12)"><rect x="0.5" y="0.5" width="112" height="17" class="po"/><text text-anchor="middle" x="56.57" y="14.00" class="p5">continent=Europe</text></g></g></g><g class="pe"><g transform="rotate(0,559.06,21)"><g transform="translate(507,12)"><rect x="0.5" y="0.5" width="104" height="17" class="po"/><text text-anchor="middle" x="52.59" y="14.00" class="p5">continent=Africa</text></g></g></g><g class="pe"><g transform="rotate(0,769.18,21)"><g transform="translate(706,12)"><rect x="0.5" y="0.5" width="126" height="17" class="po"/><text text-anchor="middle" x="63.35" y="14.00" class="p5">continent=Americas</text></g></g></g></g><g><g><g><g transform="translate(45,367)"><rect rx="2" ry="2" x="-3.20" y="-0.50" width="34.80" height="33.40" class="pp"/><text text-anchor="middle" x="14.30" y="18.84" class="pq">▶</text></g><g transform="translate(81,367)"><rect rx="2" ry="2" x="-1.80" y="-0.50" width="36.00" height="33.40" class="pp"/><text text-anchor="middle" x="16.10" y="18.50" class="pr">◼</text></g></g><g updatemenu-active-index="-1"><rect opacity="0" x="0" y="0" width="0" height="0"/></g></g></g></svg></div></div></div>
<div class="card" style="left:16.1px;top:599.9px;width:500.9px;height:344px"><div class="hd" style="font-size:17.2px">Population</div><div class="plot" id="p2" style="top:60px;left:15.9px"><div style="position:relative;width:466px;height:266px"><svg width="466" height="266" class="pa"><defs><g><clipPath id="p2c0"><rect width="316" height="195"/></clipPath></g></defs><g><rect x="43" y="30" width="316" height="195" class="p0"/></g><g><g><g><g><path transform="translate(88.96,0)" d="M0,30v195" class="p1"/><path transform="translate(203.87,0)" d="M0,30v195" class="p1"/><path transform="translate(318.78,0)" d="M0,30v195" class="p1"/></g><g><path transform="translate(0,165.5)" d="M43,0h316" class="p1"/><path transform="translate(0,105.99)" d="M43,0h316" class="p1"/><path transform="translate(0,46.49)" d="M43,0h316" class="p1"/></g></g><g><path transform="translate(0,225)" d="M43,0h316" class="ps"/></g><path/><path/><g><g transform="translate(43,30)" clip-path="url(#p2c0)"><g><g class="pv"><g><g><path d="M316,195L0,195L0,194.75L316,194.05" class="pt"/></g><g><path d="M0,194.75L316,194.03L316,194.05L0,194.75Z" class="pt"/></g></g><g><path d="M0,194.75L316,194.05" class="pu"/></g></g><g class="pv"><g><g><path d="M0,193.35L201.09,191.49L229.82,191.12L316,189.55L316,194.03L0,194.75Z" class="pt"/></g></g><g><path d="M0,194.75L316,194.03" class="pu"/></g></g><g class="pv"><g><g><path d="M0,193.21L201.09,191.24L229.82,190.81L316,189.13L316,189.55L229.82,191.12L201.09,191.49L0,193.35Z" class="pt"/></g></g><g><path d="M0,193.35L201.09,191.49L229.82,191.12L316,189.55" class="pu"/></g></g><g class="pv"><g><g><path d="M0,176.66L28.73,174.07L57.45,173.01L143.64,163.88L172.36,161.86L258.55,153.7L287.27,151.71L316,149.9L316,189.13L229.82,190.81L201.09,191.24L0,193.21Z" class="pt"/></g></g><g><path d="M0,193.21L201.09,191.24L229.82,190.81L316,189.13" class="pu"/></g></g><g class="pv"><g><g><path d="M0,176.6L28.73,173.99L57.45,172.91L143.64,163.74L172.36,161.7L258.55,153.51L287.27,151.51L316,149.69L316,149.9L287.27,151.71L258.55,153.7L172.36,161.86L143.64,163.88L57.45,173.01L28.73,174.07L0,176.66Z" class="pt"/></g></g><g><path d="M0,176.66L28.73,174.07L57.45,173.01L143.64,163.88L172.36,161.86L258.55,153.7L287.27,151.71L316,149.9" class="pu"/></g></g><g class="pv"><g><g><path d="M0,165.53L28.73,161.82L57.45,159.4L86.18,154.96L114.91,149.64L201.09,135.37L229.82,130.04L258.55,124.98L287.27,120.74L316,116.66L316,149.69L287.27,151.51L258.55,153.51L172.36,161.7L143.64,163.74L57.45,172.91L28.73,173.99L0,176.6Z" class="pt"/></g></g><g><path d="M0,176.6L28.73,173.99L57.45,172.91L143.64,163.74L172.36,161.7L258.55,153.51L287.27,151.51L316,149.69" class="pu"/></g></g><g class="pv"><g><g><path d="M0,163.09L28.73,159.14L57.45,156.46L86.18,151.71L114.91,146.03L201.09,130.34L229.82,124.54L258.55,119.05L287.27,114.46L316,110L316,116.66L287.27,120.74L258.55,124.98L229.82,130.04L201.09,135.37L114.91,149.64L86.18,154.96L57.45,159.4L28.73,161.82L0,165.53Z" class="pt"/></g></g><g><path d="M0,165.53L28.73,161.82L57.45,159.4L86.18,154.96L114.91,149.64L201.09,135.37L229.82,130.04L258.55,124.98L287.27,120.74L316,116.66" class="pu"/></g></g><g class="pv"><g><g><path d="M0,162.58L28.73,158.55L57.45,155.78L86.18,150.92L114.91,145.12L201.09,128.79L229.82,122.74L258.55,117.17L287.27,112.47L316,107.94L316,110L287.27,114.46L258.55,119.05L229.82,124.54L201.09,130.34L114.91,146.03L86.18,151.71L57.45,156.46L28.73,159.14L0,163.09Z" class="pt"/></g></g><g><path d="M0,163.09L28.73,159.14L57.45,156.46L86.18,151.71L114.91,146.03L201.09,130.34L229.82,124.54L258.55,119.05L287.27,114.46L316,110" class="pu"/></g></g><g class="pv"><g><g><path d="M0,162.41L28.73,158.36L57.45,155.56L86.18,150.66L114.91,144.82L201.09,128.3L229.82,122.21L258.55,116.55L287.27,111.76L316,107.12L316,107.94L287.27,112.47L258.55,117.17L229.82,122.74L201.09,128.79L114.91,145.12L86.18,150.92L57.45,155.78L28.73,158.55L0,162.58Z" class="pt"/></g></g><g><path d="M0,162.58L28.73,158.55L57.45,155.78L86.18,150.92L114.91,145.12L201.09,128.79L229.82,122.74L258.55,117.17L287.27,112.47L316,107.94" class="pu"/></g></g><g class="pv"><g><g><path d="M0,162.36L28.73,158.31L57.45,155.49L86.18,150.58L114.91,144.73L201.09,128.18L229.82,122.06L258.55,116.38L287.27,111.58L316,106.93L316,107.12L287.27,111.76L258.55,116.55L229.82,122.21L201.09,128.3L114.91,144.82L86.18,150.66L57.45,155.56L28.73,158.36L0,162.41Z" class="pt"/></g></g><g><path d="M0,162.41L28.73,158.36L57.45,155.56L86.18,150.66L114.91,144.82L201.09,128.3L229.82,122.21L258.55,116.55L287.27,111.76L316,107.12" class="pu"/></g></g><g class="pv"><g><g><path d="M0,159.79L28.73,155.58L57.45,152.64L86.18,147.58L114.91,141.54L201.09,124.54L229.82,118.36L258.55,112.64L287.27,107.8L316,103.14L316,106.93L287.27,111.58L258.55,116.38L229.82,122.06L201.09,128.18L114.91,144.73L86.18,150.58L57.45,155.49L28.73,158.31L0,162.36Z" class="pt"/></g></g><g><path d="M0,162.36L28.73,158.31L57.45,155.49L86.18,150.58L114.91,144.73L201.09,128.18L229.82,122.06L258.55,116.38L287.27,111.58L316,106.93" class="pu"/></g></g><g class="pv"><g><g><path d="M0,159.77L28.73,155.56L57.45,152.61L86.18,147.55L114.91,141.49L201.09,124.46L229.82,118.25L258.55,112.5L287.27,107.64L316,102.96L316,103.14L287.27,107.8L258.55,112.64L229.82,118.36L201.09,124.54L114.91,141.54L86.18,147.58L57.45,152.64L28.73,155.58L0,159.79Z" class="pt"/></g></g><g><path d="M0,159.79L28.73,155.58L57.45,152.64L86.18,147.58L114.91,141.54L201.09,124.54L229.82,118.36L258.55,112.64L287.27,107.8L316,103.14" class="pu"/></g></g><g class="pv"><g><g><path d="M0,159.51L28.73,155.28L57.45,152.29L86.18,147.17L114.91,141.05L201.09,123.89L229.82,117.63L258.55,111.86L287.27,106.98L316,102.26L316,102.96L287.27,107.64L258.55,112.5L229.82,118.25L201.09,124.46L114.91,141.49L86.18,147.55L57.45,152.61L28.73,155.56L0,159.77Z" class="pt"/></g></g><g><path d="M0,159.77L28.73,155.56L57.45,152.61L86.18,147.55L114.91,141.49L201.09,124.46L229.82,118.25L258.55,112.5L287.27,107.64L316,102.96" class="pu"/></g></g><g class="pv"><g><g><path d="M0,158.89L28.73,154.61L57.45,151.5L86.18,146.27L114.91,140.05L201.09,122.66L229.82,116.33L258.55,110.48L287.27,105.55L316,100.8L316,102.26L287.27,106.98L258.55,111.86L229.82,117.63L201.09,123.89L114.91,141.05L86.18,147.17L57.45,152.29L28.73,155.28L0,159.51Z" class="pt"/></g></g><g><path d="M0,159.51L28.73,155.28L57.45,152.29L86.18,147.17L114.91,141.05L201.09,123.89L229.82,117.63L258.55,111.86L287.27,106.98L316,102.26" class="pu"/></g></g><g class="pv"><g><g><path d="M0,158.88L28.73,154.6L57.45,151.49L86.18,146.26L114.91,140.03L201.09,122.6L229.82,116.29L258.55,110.43L287.27,105.49L316,100.73L316,100.8L287.27,105.55L258.55,110.48L229.82,116.33L201.09,122.66L114.91,140.05L86.18,146.27L57.45,151.5L28.73,154.61L0,158.89Z" class="pt"/></g></g><g><path d="M0,158.89L28.73,154.61L57.45,151.5L86.18,146.27L114.91,140.05L201.09,122.66L229.82,116.33L258.55,110.48L287.27,105.55L316,100.8" class="pu"/></g></g><g class="pv"><g><g><path d="M0,158.84L28.73,154.55L57.45,151.44L86.18,146.19L114.91,139.95L201.09,122.51L229.82,116.19L258.55,110.33L287.27,105.38L316,100.61L316,100.73L287.27,105.49L258.55,110.43L229.82,116.29L201.09,122.6L114.91,140.03L86.18,146.26L57.45,151.49L28.73,154.6L0,158.88Z" class="pt"/></g></g><g><path d="M0,158.88L28.73,154.6L57.45,151.49L86.18,146.26L114.91,140.03L201.09,122.6L229.82,116.29L258.55,110.43L287.27,105.49L316,100.73" class="pu"/></g></g><g class="pv"><g><g><path d="M0,158.64L28.73,154.32L57.45,151.17L86.18,145.89L114.91,139.61L201.09,122.02L229.82,115.65L258.55,109.72L287.27,104.71L316,99.87L316,100.61L287.27,105.38L258.55,110.33L229.82,116.19L201.09,122.51L114.91,139.95L86.18,146.19L57.45,151.44L28.73,154.55L0,158.84Z" class="pt"/></g></g><g><path d="M0,158.84L28.73,154.55L57.45,151.44L86.18,146.19L114.91,139.95L201.09,122.51L229.82,116.19L258.55,110.33L287.27,105.38L316,100.61" class="pu"/></g></g><g class="pv"><g><g><path d="M0,158.62L28.73,154.3L57.45,151.14L86.18,145.86L114.91,139.57L201.09,121.96L229.82,115.58L258.55,109.65L287.27,104.63L316,99.79L316,99.87L287.27,104.71L258.55,109.72L229.82,115.65L201.09,122.02L114.91,139.61L86.18,145.89L57.45,151.17L28.73,154.32L0,158.64Z" class="pt"/></g></g><g><path d="M0,158.64L28.73,154.32L57.45,151.17L86.18,145.89L114.91,139.61L201.09,122.02L229.82,115.65L258.55,109.72L287.27,104.71L316,99.87" class="pu"/></g></g><g class="pv"><g><g><path d="M0,158.02L28.73,153.65L57.45,150.44L86.18,145.09L114.91,138.72L201.09,120.83L229.82,114.37L258.55,108.36L287.27,103.27L316,98.37L316,99.79L287.27,104.63L258.55,109.65L229.82,115.58L201.09,121.96L114.91,139.57L86.18,145.86L57.45,151.14L28.73,154.3L0,158.62Z" class="pt"/></g></g><g><path d="M0,158.62L28.73,154.3L57.45,151.14L86.18,145.86L114.91,139.57L201.09,121.96L229.82,115.58L258.55,109.65L287.27,104.63L316,99.79" class="pu"/></g></g><g class="pv"><g><g><path d="M0,157.74L28.73,153.36L57.45,150.13L86.18,144.75L114.91,138.35L201.09,120.3L229.82,113.77L258.55,107.68L287.27,102.5L316,97.51L316,98.37L287.27,103.27L258.55,108.36L229.82,114.37L201.09,120.83L114.91,138.72L86.18,145.09L57.45,150.44L28.73,153.65L0,158.02Z" class="pt"/></g></g><g><path d="M0,158.02L28.73,153.65L57.45,150.44L86.18,145.09L114.91,138.72L201.09,120.83L229.82,114.37L258.55,108.36L287.27,103.27L316,98.37" class="pu"/></g></g><g class="pv"><g><g><path d="M0,157.73L28.73,153.34L57.45,150.11L86.18,144.73L114.91,138.33L201.09,120.25L229.82,113.71L258.55,107.61L287.27,102.42L316,97.41L316,97.51L287.27,102.5L258.55,107.68L229.82,113.77L201.09,120.3L114.91,138.35L86.18,144.75L57.45,150.13L28.73,153.36L0,157.74Z" class="pt"/></g></g><g><path d="M0,157.74L28.73,153.36L57.45,150.13L86.18,144.75L114.91,138.35L201.09,120.3L229.82,113.77L258.55,107.68L287.27,102.5L316,97.51" class="pu"/></g></g><g class="pv"><g><g><path d="M0,156.5L28.73,151.96L57.45,148.53L86.18,142.93L114.91,136.27L201.09,117.12L229.82,110.14L258.55,103.57L287.27,97.86L316,92.38L316,97.41L287.27,102.42L258.55,107.61L229.82,113.71L201.09,120.25L114.91,138.33L86.18,144.73L57.45,150.11L28.73,153.34L0,157.73Z" class="pt"/></g></g><g><path d="M0,157.73L28.73,153.34L57.45,150.11L86.18,144.73L114.91,138.33L201.09,120.25L229.82,113.71L258.55,107.61L287.27,102.42L316,97.41" class="pu"/></g></g><g class="pv"><g><g><path d="M0,155.83L28.73,151.18L57.45,147.63L86.18,141.87L114.91,135.05L201.09,115.33L229.82,108.14L258.55,101.34L287.27,95.39L316,89.67L316,92.38L287.27,97.86L258.55,103.57L229.82,110.14L201.09,117.12L114.91,136.27L86.18,142.93L57.45,148.53L28.73,151.96L0,156.5Z" class="pt"/></g></g><g><path d="M0,156.5L28.73,151.96L57.45,148.53L86.18,142.93L114.91,136.27L201.09,117.12L229.82,110.14L258.55,103.57L287.27,97.86L316,92.38" class="pu"/></g></g><g class="pv"><g><g><path d="M0,155.71L28.73,151.05L57.45,147.48L86.18,141.71L114.91,134.86L172.36,122.16L201.09,114.9L258.55,100.71L287.27,94.66L316,88.85L316,89.67L287.27,95.39L258.55,101.34L229.82,108.14L201.09,115.33L114.91,135.05L86.18,141.87L57.45,147.63L28.73,151.18L0,155.83Z" class="pt"/></g></g><g><path d="M0,155.83L28.73,151.18L57.45,147.63L86.18,141.87L114.91,135.05L201.09,115.33L229.82,108.14L258.55,101.34L287.27,95.39L316,89.67" class="pu"/></g></g><g class="pv"><g><g><path d="M0,155.68L28.73,151L57.45,147.43L86.18,141.65L114.91,134.79L172.36,122.08L201.09,114.82L258.55,100.6L287.27,94.53L316,88.71L316,88.85L287.27,94.66L258.55,100.71L201.09,114.9L172.36,122.16L114.91,134.86L86.18,141.71L57.45,147.48L28.73,151.05L0,155.71Z" class="pt"/></g></g><g><path d="M0,155.71L28.73,151.05L57.45,147.48L86.18,141.71L114.91,134.86L172.36,122.16L201.09,114.9L258.55,100.71L287.27,94.66L316,88.85" class="pu"/></g></g><g class="pv"><g><g><path d="M0,155.44L28.73,150.73L57.45,147.12L86.18,141.3L114.91,134.41L172.36,121.63L201.09,114.33L258.55,100.04L287.27,93.95L316,88.1L316,88.71L287.27,94.53L258.55,100.6L201.09,114.82L172.36,122.08L114.91,134.79L86.18,141.65L57.45,147.43L28.73,151L0,155.68Z" class="pt"/></g></g><g><path d="M0,155.68L28.73,151L57.45,147.43L86.18,141.65L114.91,134.79L172.36,122.08L201.09,114.82L258.55,100.6L287.27,94.53L316,88.71" class="pu"/></g></g><g class="pv"><g><g><path d="M0,155.33L28.73,150.61L57.45,146.98L86.18,141.13L114.91,134.21L172.36,121.35L201.09,113.99L258.55,99.59L287.27,93.44L316,87.53L316,88.1L287.27,93.95L258.55,100.04L201.09,114.33L172.36,121.63L114.91,134.41L86.18,141.3L57.45,147.12L28.73,150.73L0,155.44Z" class="pt"/></g></g><g><path d="M0,155.44L28.73,150.73L57.45,147.12L86.18,141.3L114.91,134.41L172.36,121.63L201.09,114.33L258.55,100.04L287.27,93.95L316,88.1" class="pu"/></g></g><g class="pv"><g><g><path d="M0,155.08L28.73,150.31L57.45,146.62L86.18,140.72L114.91,133.75L172.36,120.8L201.09,113.4L258.55,98.95L287.27,92.77L316,86.84L316,87.53L287.27,93.44L258.55,99.59L201.09,113.99L172.36,121.35L114.91,134.21L86.18,141.13L57.45,146.98L28.73,150.61L0,155.33Z" class="pt"/></g></g><g><path d="M0,155.33L28.73,150.61L57.45,146.98L86.18,141.13L114.91,134.21L172.36,121.35L201.09,113.99L258.55,99.59L287.27,93.44L316,87.53" class="pu"/></g></g><g class="pv"><g><g><path d="M0,154.44L28.73,149.56L57.45,145.75L86.18,139.71L114.91,132.59L201.09,111.83L229.82,104.32L258.55,97.16L287.27,90.9L316,84.9L316,86.84L287.27,92.77L258.55,98.95L201.09,113.4L172.36,120.8L114.91,133.75L86.18,140.72L57.45,146.62L28.73,150.31L0,155.08Z" class="pt"/></g></g><g><path d="M0,155.08L28.73,150.31L57.45,146.62L86.18,140.72L114.91,133.75L172.36,120.8L201.09,113.4L258.55,98.95L287.27,92.77L316,86.84" class="pu"/></g></g><g class="pv"><g><g><path d="M0,153.66L28.73,148.7L57.45,144.75L86.18,138.54L114.91,131.26L172.36,117.67L201.09,109.96L258.55,94.9L287.27,88.5L316,82.37L316,84.9L287.27,90.9L258.55,97.16L229.82,104.32L201.09,111.83L114.91,132.59L86.18,139.71L57.45,145.75L28.73,149.56L0,154.44Z" class="pt"/></g></g><g><path d="M0,154.44L28.73,149.56L57.45,145.75L86.18,139.71L114.91,132.59L201.09,111.83L229.82,104.32L258.55,97.16L287.27,90.9L316,84.9" class="pu"/></g></g><g class="pv"><g><g><path d="M0,153.63L28.73,148.67L57.45,144.71L86.18,138.5L114.91,131.22L172.36,117.63L201.09,109.91L258.55,94.81L287.27,88.4L316,82.25L316,82.37L287.27,88.5L258.55,94.9L201.09,109.96L172.36,117.67L114.91,131.26L86.18,138.54L57.45,144.75L28.73,148.7L0,153.66Z" class="pt"/></g></g><g><path d="M0,153.66L28.73,148.7L57.45,144.75L86.18,138.54L114.91,131.26L172.36,117.67L201.09,109.96L258.55,94.9L287.27,88.5L316,82.37" class="pu"/></g></g><g class="pv"><g><g><path d="M0,153.49L28.73,148.5L57.45,144.53L86.18,138.3L114.91,131L172.36,117.34L201.09,109.58L258.55,94.34L287.27,87.84L316,81.59L316,82.25L287.27,88.4L258.55,94.81L201.09,109.91L172.36,117.63L114.91,131.22L86.18,138.5L57.45,144.71L28.73,148.67L0,153.63Z" class="pt"/></g></g><g><path d="M0,153.63L28.73,148.67L57.45,144.71L86.18,138.5L114.91,131.22L172.36,117.63L201.09,109.91L258.55,94.81L287.27,88.4L316,82.25" class="pu"/></g></g><g class="pv"><g><g><path d="M0,153.45L28.73,148.46L57.45,144.48L86.18,138.24L114.91,130.94L172.36,117.26L201.09,109.48L258.55,94.24L287.27,87.73L316,81.48L316,81.59L287.27,87.84L258.55,94.34L201.09,109.58L172.36,117.34L114.91,131L86.18,138.3L57.45,144.53L28.73,148.5L0,153.49Z" class="pw"/></g></g><g><path d="M0,153.49L28.73,148.5L57.45,144.53L86.18,138.3L114.91,131L172.36,117.34L201.09,109.58L258.55,94.34L287.27,87.84L316,81.59" class="pu"/></g></g><g class="pv"><g><g><path d="M0,153.24L28.73,148.25L57.45,144.27L86.18,138.02L114.91,130.71L172.36,117.04L201.09,109.26L258.55,94L287.27,87.49L316,81.24L316,81.48L287.27,87.73L258.55,94.24L201.09,109.48L172.36,117.26L114.91,130.94L86.18,138.24L57.45,144.48L28.73,148.46L0,153.45Z" class="pw"/></g></g><g><path d="M0,153.45L28.73,148.46L57.45,144.48L86.18,138.24L114.91,130.94L172.36,117.26L201.09,109.48L258.55,94.24L287.27,87.73L316,81.48" class="px"/></g></g><g class="pv"><g><g><path d="M0,152.98L28.73,147.99L57.45,143.99L86.18,137.74L114.91,130.42L172.36,116.74L201.09,108.96L258.55,93.69L287.27,87.19L316,80.93L316,81.24L287.27,87.49L258.55,94L201.09,109.26L172.36,117.04L114.91,130.71L86.18,138.02L57.45,144.27L28.73,148.25L0,153.24Z" class="pw"/></g></g><g><path d="M0,153.24L28.73,148.25L57.45,144.27L86.18,138.02L114.91,130.71L172.36,117.04L201.09,109.26L258.55,94L287.27,87.49L316,81.24" class="px"/></g></g><g class="pv"><g><g><path d="M0,152.9L28.73,147.89L57.45,143.89L86.18,137.63L114.91,130.31L172.36,116.62L201.09,108.84L258.55,93.59L287.27,87.06L316,80.79L316,80.93L287.27,87.19L258.55,93.69L201.09,108.96L172.36,116.74L114.91,130.42L86.18,137.74L57.45,143.99L28.73,147.99L0,152.98Z" class="pw"/></g></g><g><path d="M0,152.98L28.73,147.99L57.45,143.99L86.18,137.74L114.91,130.42L172.36,116.74L201.09,108.96L258.55,93.69L287.27,87.19L316,80.93" class="px"/></g></g><g class="pv"><g><g><path d="M0,152.68L28.73,147.67L57.45,143.65L86.18,137.39L114.91,130.05L172.36,116.35L201.09,108.57L258.55,93.35L287.27,86.83L316,80.57L316,80.79L287.27,87.06L258.55,93.59L201.09,108.84L172.36,116.62L114.91,130.31L86.18,137.63L57.45,143.89L28.73,147.89L0,152.9Z" class="pw"/></g></g><g><path d="M0,152.9L28.73,147.89L57.45,143.89L86.18,137.63L114.91,130.31L172.36,116.62L201.09,108.84L258.55,93.59L287.27,87.06L316,80.79" class="px"/></g></g><g class="pv"><g><g><path d="M0,152.57L28.73,147.55L57.45,143.53L86.18,137.26L114.91,129.93L172.36,116.22L201.09,108.44L258.55,93.22L287.27,86.7L316,80.44L316,80.57L287.27,86.83L258.55,93.35L201.09,108.57L172.36,116.35L114.91,130.05L86.18,137.39L57.45,143.65L28.73,147.67L0,152.68Z" class="pw"/></g></g><g><path d="M0,152.68L28.73,147.67L57.45,143.65L86.18,137.39L114.91,130.05L172.36,116.35L201.09,108.57L258.55,93.35L287.27,86.83L316,80.57" class="px"/></g></g><g class="pv"><g><g><path d="M0,152.29L28.73,147.26L57.45,143.25L86.18,136.97L114.91,129.64L172.36,115.92L201.09,108.13L258.55,92.91L287.27,86.4L316,80.13L316,80.44L287.27,86.7L258.55,93.22L201.09,108.44L172.36,116.22L114.91,129.93L86.18,137.26L57.45,143.53L28.73,147.55L0,152.57Z" class="pw"/></g></g><g><path d="M0,152.57L28.73,147.55L57.45,143.53L86.18,137.26L114.91,129.93L172.36,116.22L201.09,108.44L258.55,93.22L287.27,86.7L316,80.44" class="px"/></g></g><g class="pv"><g><g><path d="M0,152.17L28.73,147.13L57.45,143.11L86.18,136.83L114.91,129.49L172.36,115.76L201.09,107.98L258.55,92.75L287.27,86.24L316,79.97L316,80.13L287.27,86.4L258.55,92.91L201.09,108.13L172.36,115.92L114.91,129.64L86.18,136.97L57.45,143.25L28.73,147.26L0,152.29Z" class="pw"/></g></g><g><path d="M0,152.29L28.73,147.26L57.45,143.25L86.18,136.97L114.91,129.64L172.36,115.92L201.09,108.13L258.55,92.91L287.27,86.4L316,80.13" class="px"/></g></g><g class="pv"><g><g><path d="M0,152.04L28.73,147L57.45,142.97L86.18,136.69L114.91,129.35L172.36,115.62L201.09,107.83L258.55,92.6L287.27,86.08L316,79.82L316,79.97L287.27,86.24L258.55,92.75L201.09,107.98L172.36,115.76L114.91,129.49L86.18,136.83L57.45,143.11L28.73,147.13L0,152.17Z" class="pw"/></g></g><g><path d="M0,152.17L28.73,147.13L57.45,143.11L86.18,136.83L114.91,129.49L172.36,115.76L201.09,107.98L258.55,92.75L287.27,86.24L316,79.97" class="px"/></g></g><g class="pv"><g><g><path d="M0,150.78L28.73,145.68L57.45,141.57L86.18,135.21L114.91,127.81L172.36,114L201.09,106.17L258.55,90.85L287.27,84.3L316,78L316,79.82L287.27,86.08L258.55,92.6L201.09,107.83L172.36,115.62L114.91,129.35L86.18,136.69L57.45,142.97L28.73,147L0,152.04Z" class="pw"/></g></g><g><path d="M0,152.04L28.73,147L57.45,142.97L86.18,136.69L114.91,129.35L172.36,115.62L201.09,107.83L258.55,92.6L287.27,86.08L316,79.82" class="px"/></g></g><g class="pv"><g><g><path d="M0,148.72L28.73,143.57L57.45,139.38L86.18,132.94L114.91,125.47L172.36,111.67L201.09,103.86L258.55,88.41L287.27,81.85L316,75.55L316,78L287.27,84.3L258.55,90.85L201.09,106.17L172.36,114L114.91,127.81L86.18,135.21L57.45,141.57L28.73,145.68L0,150.78Z" class="pw"/></g></g><g><path d="M0,150.78L28.73,145.68L57.45,141.57L86.18,135.21L114.91,127.81L172.36,114L201.09,106.17L258.55,90.85L287.27,84.3L316,78" class="px"/></g></g><g class="pv"><g><g><path d="M0,148.49L28.73,143.33L57.45,139.13L86.18,132.68L114.91,125.2L172.36,111.38L201.09,103.57L258.55,88.1L287.27,81.53L316,75.23L316,75.55L287.27,81.85L258.55,88.41L201.09,103.86L172.36,111.67L114.91,125.47L86.18,132.94L57.45,139.38L28.73,143.57L0,148.72Z" class="pw"/></g></g><g><path d="M0,148.72L28.73,143.57L57.45,139.38L86.18,132.94L114.91,125.47L172.36,111.67L201.09,103.86L258.55,88.41L287.27,81.85L316,75.55" class="px"/></g></g><g class="pv"><g><g><path d="M0,148.21L28.73,143.04L57.45,138.83L86.18,132.38L114.91,124.89L172.36,111.06L201.09,103.25L258.55,87.8L287.27,81.23L316,74.93L316,75.23L287.27,81.53L258.55,88.1L201.09,103.57L172.36,111.38L114.91,125.2L86.18,132.68L57.45,139.13L28.73,143.33L0,148.49Z" class="pw"/></g></g><g><path d="M0,148.49L28.73,143.33L57.45,139.13L86.18,132.68L114.91,125.2L172.36,111.38L201.09,103.57L258.55,88.1L287.27,81.53L316,75.23" class="px"/></g></g><g class="pv"><g><g><path d="M0,148.21L28.73,143.03L57.45,138.82L86.18,132.37L114.91,124.89L201.09,103.24L229.82,95.29L258.55,87.79L287.27,81.22L316,74.92L316,74.93L287.27,81.23L258.55,87.8L201.09,103.25L172.36,111.06L114.91,124.89L86.18,132.38L57.45,138.83L28.73,143.04L0,148.21Z" class="pw"/></g></g><g><path d="M0,148.21L28.73,143.04L57.45,138.83L86.18,132.38L114.91,124.89L172.36,111.06L201.09,103.25L258.55,87.8L287.27,81.23L316,74.93" class="px"/></g></g><g class="pv"><g><g><path d="M0,148.12L28.73,142.95L57.45,138.74L86.18,132.29L114.91,124.8L201.09,103.14L229.82,95.18L258.55,87.68L287.27,81.11L316,74.8L316,74.92L287.27,81.22L258.55,87.79L229.82,95.29L201.09,103.24L114.91,124.89L86.18,132.37L57.45,138.82L28.73,143.03L0,148.21Z" class="pw"/></g></g><g><path d="M0,148.21L28.73,143.03L57.45,138.82L86.18,132.37L114.91,124.89L201.09,103.24L229.82,95.29L258.55,87.79L287.27,81.22L316,74.92" class="px"/></g></g><g class="pv"><g><g><path d="M0,146.7L28.73,141.48L57.45,137.23L86.18,130.72L114.91,123.18L201.09,101.45L229.82,93.49L258.55,85.97L287.27,79.38L316,73.07L316,74.8L287.27,81.11L258.55,87.68L229.82,95.18L201.09,103.14L114.91,124.8L86.18,132.29L57.45,138.74L28.73,142.95L0,148.12Z" class="pw"/></g></g><g><path d="M0,148.12L28.73,142.95L57.45,138.74L86.18,132.29L114.91,124.8L201.09,103.14L229.82,95.18L258.55,87.68L287.27,81.11L316,74.8" class="px"/></g></g><g class="pv"><g><g><path d="M0,146.69L28.73,141.47L57.45,137.21L86.18,130.7L114.91,123.16L201.09,101.43L229.82,93.47L258.55,85.95L287.27,79.36L316,73.05L316,73.07L287.27,79.38L258.55,85.97L229.82,93.49L201.09,101.45L114.91,123.18L86.18,130.72L57.45,137.23L28.73,141.48L0,146.7Z" class="pw"/></g></g><g><path d="M0,146.7L28.73,141.48L57.45,137.23L86.18,130.72L114.91,123.18L201.09,101.45L229.82,93.49L258.55,85.97L287.27,79.38L316,73.07" class="px"/></g></g><g class="pv"><g><g><path d="M0,146.38L28.73,141.14L57.45,136.86L86.18,130.33L114.91,122.77L201.09,101L229.82,93.02L258.55,85.49L287.27,78.88L316,72.56L316,73.05L287.27,79.36L258.55,85.95L229.82,93.47L201.09,101.43L114.91,123.16L86.18,130.7L57.45,137.21L28.73,141.47L0,146.69Z" class="pw"/></g></g><g><path d="M0,146.69L28.73,141.47L57.45,137.21L86.18,130.7L114.91,123.16L201.09,101.43L229.82,93.47L258.55,85.95L287.27,79.36L316,73.05" class="px"/></g></g><g class="pv"><g><g><path d="M0,146.28L28.73,141.04L57.45,136.75L86.18,130.22L114.91,122.65L201.09,100.87L229.82,92.89L258.55,85.35L287.27,78.75L316,72.42L316,72.56L287.27,78.88L258.55,85.49L229.82,93.02L201.09,101L114.91,122.77L86.18,130.33L57.45,136.86L28.73,141.14L0,146.38Z" class="pw"/></g></g><g><path d="M0,146.38L28.73,141.14L57.45,136.86L86.18,130.33L114.91,122.77L201.09,101L229.82,93.02L258.55,85.49L287.27,78.88L316,72.56" class="px"/></g></g><g class="pv"><g><g><path d="M0,145.51L28.73,140.2L57.45,135.85L86.18,129.27L114.91,121.67L201.09,99.75L229.82,91.75L258.55,84.2L287.27,77.6L316,71.27L316,72.42L287.27,78.75L258.55,85.35L229.82,92.89L201.09,100.87L114.91,122.65L86.18,130.22L57.45,136.75L28.73,141.04L0,146.28Z" class="pw"/></g></g><g><path d="M0,146.28L28.73,141.04L57.45,136.75L86.18,130.22L114.91,122.65L201.09,100.87L229.82,92.89L258.55,85.35L287.27,78.75L316,72.42" class="px"/></g></g><g class="pv"><g><g><path d="M0,145.26L28.73,139.94L57.45,135.58L86.18,129L114.91,121.4L201.09,99.45L229.82,91.46L258.55,83.9L287.27,77.29L316,70.96L316,71.27L287.27,77.6L258.55,84.2L229.82,91.75L201.09,99.75L114.91,121.67L86.18,129.27L57.45,135.85L28.73,140.2L0,145.51Z" class="pw"/></g></g><g><path d="M0,145.51L28.73,140.2L57.45,135.85L86.18,129.27L114.91,121.67L201.09,99.75L229.82,91.75L258.55,84.2L287.27,77.6L316,71.27" class="px"/></g></g><g class="pv"><g><g><path d="M0,144.77L28.73,139.41L57.45,135.03L86.18,128.43L114.91,120.79L201.09,98.78L229.82,90.78L258.55,83.23L287.27,76.62L316,70.3L316,70.96L287.27,77.29L258.55,83.9L229.82,91.46L201.09,99.45L114.91,121.4L86.18,129L57.45,135.58L28.73,139.94L0,145.26Z" class="pw"/></g></g><g><path d="M0,145.26L28.73,139.94L57.45,135.58L86.18,129L114.91,121.4L201.09,99.45L229.82,91.46L258.55,83.9L287.27,77.29L316,70.96" class="px"/></g></g><g class="pv"><g><g><path d="M0,144.56L28.73,139.19L57.45,134.8L86.18,128.19L114.91,120.54L201.09,98.5L229.82,90.49L258.55,82.92L287.27,76.32L316,69.99L316,70.3L287.27,76.62L258.55,83.23L229.82,90.78L201.09,98.78L114.91,120.79L86.18,128.43L57.45,135.03L28.73,139.41L0,144.77Z" class="pw"/></g></g><g><path d="M0,144.77L28.73,139.41L57.45,135.03L86.18,128.43L114.91,120.79L201.09,98.78L229.82,90.78L258.55,83.23L287.27,76.62L316,70.3" class="px"/></g></g><g class="pv"><g><g><path d="M0,144.46L28.73,139.07L57.45,134.67L86.18,128.06L114.91,120.4L201.09,98.35L229.82,90.33L258.55,82.76L287.27,76.16L316,69.83L316,69.99L287.27,76.32L258.55,82.92L229.82,90.49L201.09,98.5L114.91,120.54L86.18,128.19L57.45,134.8L28.73,139.19L0,144.56Z" class="pw"/></g></g><g><path d="M0,144.56L28.73,139.19L57.45,134.8L86.18,128.19L114.91,120.54L201.09,98.5L229.82,90.49L258.55,82.92L287.27,76.32L316,69.99" class="px"/></g></g><g class="pv"><g><g><path d="M0,144.41L28.73,139.03L57.45,134.63L86.18,128.01L114.91,120.35L201.09,98.29L229.82,90.27L258.55,82.7L287.27,76.1L316,69.77L316,69.83L287.27,76.16L258.55,82.76L229.82,90.33L201.09,98.35L114.91,120.4L86.18,128.06L57.45,134.67L28.73,139.07L0,144.46Z" class="pw"/></g></g><g><path d="M0,144.46L28.73,139.07L57.45,134.67L86.18,128.06L114.91,120.4L201.09,98.35L229.82,90.33L258.55,82.76L287.27,76.16L316,69.83" class="px"/></g></g><g class="pv"><g><g><path d="M0,143.56L28.73,138.14L57.45,133.7L86.18,127.03L114.91,119.33L201.09,97.13L229.82,89.09L258.55,81.52L287.27,74.91L316,68.57L316,69.77L287.27,76.1L258.55,82.7L229.82,90.27L201.09,98.29L114.91,120.35L86.18,128.01L57.45,134.63L28.73,139.03L0,144.41Z" class="pw"/></g></g><g><path d="M0,144.41L28.73,139.03L57.45,134.63L86.18,128.01L114.91,120.35L201.09,98.29L229.82,90.27L258.55,82.7L287.27,76.1L316,69.77" class="px"/></g></g><g class="pv"><g><g><path d="M0,143.35L28.73,137.92L57.45,133.47L86.18,126.8L114.91,119.08L201.09,96.88L229.82,88.83L258.55,81.25L287.27,74.64L316,68.3L316,68.57L287.27,74.91L258.55,81.52L229.82,89.09L201.09,97.13L114.91,119.33L86.18,127.03L57.45,133.7L28.73,138.14L0,143.56Z" class="pw"/></g></g><g><path d="M0,143.56L28.73,138.14L57.45,133.7L86.18,127.03L114.91,119.33L201.09,97.13L229.82,89.09L258.55,81.52L287.27,74.91L316,68.57" class="px"/></g></g><g class="pv"><g><g><path d="M0,143.21L28.73,137.77L57.45,133.31L86.18,126.62L114.91,118.89L201.09,96.69L229.82,88.62L258.55,81.04L287.27,74.42L316,68.07L316,68.3L287.27,74.64L258.55,81.25L229.82,88.83L201.09,96.88L114.91,119.08L86.18,126.8L57.45,133.47L28.73,137.92L0,143.35Z" class="pw"/></g></g><g><path d="M0,143.35L28.73,137.92L57.45,133.47L86.18,126.8L114.91,119.08L201.09,96.88L229.82,88.83L258.55,81.25L287.27,74.64L316,68.3" class="px"/></g></g><g class="pv"><g><g><path d="M0,142.55L28.73,137.01L57.45,132.42L86.18,125.62L114.91,117.78L201.09,95.11L229.82,86.89L258.55,79.16L287.27,72.42L316,65.96L316,68.07L287.27,74.42L258.55,81.04L229.82,88.62L201.09,96.69L114.91,118.89L86.18,126.62L57.45,133.31L28.73,137.77L0,143.21Z" class="pw"/></g></g><g><path d="M0,143.21L28.73,137.77L57.45,133.31L86.18,126.62L114.91,118.89L201.09,96.69L229.82,88.62L258.55,81.04L287.27,74.42L316,68.07" class="px"/></g></g><g class="pv"><g><g><path d="M0,141.05L28.73,135.48L57.45,130.83L86.18,123.99L114.91,116.11L201.09,93.42L229.82,85.17L258.55,77.41L287.27,70.64L316,64.15L316,65.96L287.27,72.42L258.55,79.16L229.82,86.89L201.09,95.11L114.91,117.78L86.18,125.62L57.45,132.42L28.73,137.01L0,142.55Z" class="pw"/></g></g><g><path d="M0,142.55L28.73,137.01L57.45,132.42L86.18,125.62L114.91,117.78L201.09,95.11L229.82,86.89L258.55,79.16L287.27,72.42L316,65.96" class="px"/></g></g><g class="pv"><g><g><path d="M0,140.77L28.73,135.17L57.45,130.51L86.18,123.61L114.91,115.67L201.09,92.73L229.82,84.39L258.55,76.55L287.27,69.7L316,63.16L316,64.15L287.27,70.64L258.55,77.41L229.82,85.17L201.09,93.42L114.91,116.11L86.18,123.99L57.45,130.83L28.73,135.48L0,141.05Z" class="py"/></g></g><g><path d="M0,141.05L28.73,135.48L57.45,130.83L86.18,123.99L114.91,116.11L201.09,93.42L229.82,85.17L258.55,77.41L287.27,70.64L316,64.15" class="px"/></g></g><g class="pv"><g><g><path d="M0,140.64L28.73,135.03L57.45,130.36L86.18,123.45L114.91,115.49L201.09,92.49L229.82,84.13L258.55,76.25L287.27,69.38L316,62.79L316,63.16L287.27,69.7L258.55,76.55L229.82,84.39L201.09,92.73L114.91,115.67L86.18,123.61L57.45,130.51L28.73,135.17L0,140.77Z" class="py"/></g></g><g><path d="M0,140.77L28.73,135.17L57.45,130.51L86.18,123.61L114.91,115.67L201.09,92.73L229.82,84.39L258.55,76.55L287.27,69.7L316,63.16" class="pz"/></g></g><g class="pv"><g><g><path d="M0,140.59L28.73,134.98L57.45,130.3L86.18,123.38L114.91,115.41L201.09,92.36L229.82,83.98L258.55,76.07L287.27,69.17L316,62.55L316,62.79L287.27,69.38L258.55,76.25L229.82,84.13L201.09,92.49L114.91,115.49L86.18,123.45L57.45,130.36L28.73,135.03L0,140.64Z" class="py"/></g></g><g><path d="M0,140.64L28.73,135.03L57.45,130.36L86.18,123.45L114.91,115.49L201.09,92.49L229.82,84.13L258.55,76.25L287.27,69.38L316,62.79" class="pz"/></g></g><g class="pv"><g><g><path d="M0,140.58L28.73,134.96L57.45,130.28L86.18,123.36L114.91,115.39L201.09,92.33L229.82,83.94L258.55,76.03L287.27,69.12L316,62.5L316,62.55L287.27,69.17L258.55,76.07L229.82,83.98L201.09,92.36L114.91,115.41L86.18,123.38L57.45,130.3L28.73,134.98L0,140.59Z" class="py"/></g></g><g><path d="M0,140.59L28.73,134.98L57.45,130.3L86.18,123.38L114.91,115.41L201.09,92.36L229.82,83.98L258.55,76.07L287.27,69.17L316,62.55" class="pz"/></g></g><g class="pv"><g><g><path d="M0,140.45L28.73,134.82L57.45,130.14L86.18,123.21L114.91,115.23L201.09,92.1L229.82,83.68L258.55,75.72L287.27,68.76L316,62.07L316,62.5L287.27,69.12L258.55,76.03L229.82,83.94L201.09,92.33L114.91,115.39L86.18,123.36L57.45,130.28L28.73,134.96L0,140.58Z" class="py"/></g></g><g><path d="M0,140.58L28.73,134.96L57.45,130.28L86.18,123.36L114.91,115.39L201.09,92.33L229.82,83.94L258.55,76.03L287.27,69.12L316,62.5" class="pz"/></g></g><g class="pv"><g><g><path d="M0,140.37L28.73,134.74L57.45,130.05L86.18,123.11L114.91,115.13L201.09,91.95L229.82,83.5L258.55,75.54L287.27,68.55L316,61.82L316,62.07L287.27,68.76L258.55,75.72L229.82,83.68L201.09,92.1L114.91,115.23L86.18,123.21L57.45,130.14L28.73,134.82L0,140.45Z" class="py"/></g></g><g><path d="M0,140.45L28.73,134.82L57.45,130.14L86.18,123.21L114.91,115.23L201.09,92.1L229.82,83.68L258.55,75.72L287.27,68.76L316,62.07" class="pz"/></g></g><g class="pv"><g><g><path d="M0,140.22L28.73,134.58L57.45,129.88L86.18,122.92L114.91,114.92L201.09,91.63L229.82,83.13L258.55,75.12L287.27,68.08L316,61.3L316,61.82L287.27,68.55L258.55,75.54L229.82,83.5L201.09,91.95L114.91,115.13L86.18,123.11L57.45,130.05L28.73,134.74L0,140.37Z" class="py"/></g></g><g><path d="M0,140.37L28.73,134.74L57.45,130.05L86.18,123.11L114.91,115.13L201.09,91.95L229.82,83.5L258.55,75.54L287.27,68.55L316,61.82" class="pz"/></g></g><g class="pv"><g><g><path d="M0,140.19L28.73,134.54L57.45,129.83L86.18,122.87L114.91,114.86L201.09,91.55L229.82,83.04L258.55,75.01L287.27,67.96L316,61.17L316,61.3L287.27,68.08L258.55,75.12L229.82,83.13L201.09,91.63L114.91,114.92L86.18,122.92L57.45,129.88L28.73,134.58L0,140.22Z" class="py"/></g></g><g><path d="M0,140.22L28.73,134.58L57.45,129.88L86.18,122.92L114.91,114.92L201.09,91.63L229.82,83.13L258.55,75.12L287.27,68.08L316,61.3" class="pz"/></g></g><g class="pv"><g><g><path d="M0,140.11L28.73,134.46L57.45,129.74L86.18,122.77L114.91,114.75L172.36,99.77L201.09,91.38L258.55,74.78L287.27,67.69L316,60.86L316,61.17L287.27,67.96L258.55,75.01L229.82,83.04L201.09,91.55L114.91,114.86L86.18,122.87L57.45,129.83L28.73,134.54L0,140.19Z" class="py"/></g></g><g><path d="M0,140.19L28.73,134.54L57.45,129.83L86.18,122.87L114.91,114.86L201.09,91.55L229.82,83.04L258.55,75.01L287.27,67.96L316,61.17" class="pz"/></g></g><g class="pv"><g><g><path d="M0,140.1L28.73,134.45L57.45,129.73L86.18,122.76L114.91,114.74L172.36,99.76L201.09,91.37L258.55,74.76L287.27,67.68L316,60.84L316,60.86L287.27,67.69L258.55,74.78L201.09,91.38L172.36,99.77L114.91,114.75L86.18,122.77L57.45,129.74L28.73,134.46L0,140.11Z" class="py"/></g></g><g><path d="M0,140.11L28.73,134.46L57.45,129.74L86.18,122.77L114.91,114.75L172.36,99.77L201.09,91.38L258.55,74.78L287.27,67.69L316,60.86" class="pz"/></g></g><g class="pv"><g><g><path d="M0,139.68L28.73,133.99L57.45,129.21L86.18,122.17L114.91,114.05L172.36,98.85L201.09,90.32L258.55,73.34L287.27,66.03L316,58.92L316,60.84L287.27,67.68L258.55,74.76L201.09,91.37L172.36,99.76L114.91,114.74L86.18,122.76L57.45,129.73L28.73,134.45L0,140.1Z" class="py"/></g></g><g><path d="M0,140.1L28.73,134.45L57.45,129.73L86.18,122.76L114.91,114.74L172.36,99.76L201.09,91.37L258.55,74.76L287.27,67.68L316,60.84" class="pz"/></g></g><g class="pv"><g><g><path d="M0,139.66L28.73,133.96L57.45,129.18L86.18,122.13L114.91,114.01L172.36,98.79L201.09,90.25L258.55,73.26L287.27,65.93L316,58.81L316,58.92L287.27,66.03L258.55,73.34L201.09,90.32L172.36,98.85L114.91,114.05L86.18,122.17L57.45,129.21L28.73,133.99L0,139.68Z" class="py"/></g></g><g><path d="M0,139.68L28.73,133.99L57.45,129.21L86.18,122.17L114.91,114.05L172.36,98.85L201.09,90.32L258.55,73.34L287.27,66.03L316,58.92" class="pz"/></g></g><g class="pv"><g><g><path d="M0,139.57L28.73,133.86L57.45,129.07L86.18,121.99L114.91,113.83L172.36,98.52L201.09,89.93L258.55,72.82L287.27,65.44L316,58.27L316,58.81L287.27,65.93L258.55,73.26L201.09,90.25L172.36,98.79L114.91,114.01L86.18,122.13L57.45,129.18L28.73,133.96L0,139.66Z" class="py"/></g></g><g><path d="M0,139.66L28.73,133.96L57.45,129.18L86.18,122.13L114.91,114.01L172.36,98.79L201.09,90.25L258.55,73.26L287.27,65.93L316,58.81" class="pz"/></g></g><g class="pv"><g><g><path d="M0,139.57L28.73,133.86L57.45,129.06L86.18,121.99L114.91,113.83L172.36,98.51L201.09,89.93L258.55,72.81L287.27,65.43L316,58.25L316,58.27L287.27,65.44L258.55,72.82L201.09,89.93L172.36,98.52L114.91,113.83L86.18,121.99L57.45,129.07L28.73,133.86L0,139.57Z" class="py"/></g></g><g><path d="M0,139.57L28.73,133.86L57.45,129.07L86.18,121.99L114.91,113.83L172.36,98.52L201.09,89.93L258.55,72.82L287.27,65.44L316,58.27" class="pz"/></g></g><g class="pv"><g><g><path d="M0,138.9L28.73,133.12L57.45,128.23L86.18,121.04L114.91,112.79L172.36,97.16L201.09,88.35L258.55,70.84L287.27,63.25L316,55.87L316,58.25L287.27,65.43L258.55,72.81L201.09,89.93L172.36,98.51L114.91,113.83L86.18,121.99L57.45,129.06L28.73,133.86L0,139.57Z" class="py"/></g></g><g><path d="M0,139.57L28.73,133.86L57.45,129.06L86.18,121.99L114.91,113.83L172.36,98.51L201.09,89.93L258.55,72.81L287.27,65.43L316,58.25" class="pz"/></g></g><g class="pv"><g><g><path d="M0,138.9L28.73,133.11L57.45,128.22L86.18,121.04L114.91,112.78L172.36,97.15L201.09,88.34L258.55,70.83L287.27,63.24L316,55.85L316,55.87L287.27,63.25L258.55,70.84L201.09,88.35L172.36,97.16L114.91,112.79L86.18,121.04L57.45,128.23L28.73,133.12L0,138.9Z" class="py"/></g></g><g><path d="M0,138.9L28.73,133.12L57.45,128.23L86.18,121.04L114.91,112.79L172.36,97.16L201.09,88.35L258.55,70.84L287.27,63.25L316,55.87" class="pz"/></g></g><g class="pv"><g><g><path d="M0,138.86L28.73,133.06L57.45,128.17L86.18,120.98L114.91,112.72L172.36,97.07L201.09,88.26L258.55,70.71L287.27,63.1L316,55.7L316,55.85L287.27,63.24L258.55,70.83L201.09,88.34L172.36,97.15L114.91,112.78L86.18,121.04L57.45,128.22L28.73,133.11L0,138.9Z" class="py"/></g></g><g><path d="M0,138.9L28.73,133.11L57.45,128.22L86.18,121.04L114.91,112.78L172.36,97.15L201.09,88.34L258.55,70.83L287.27,63.24L316,55.85" class="pz"/></g></g><g class="pv"><g><g><path d="M0,138.23L28.73,132.38L57.45,127.42L86.18,120.15L114.91,111.8L172.36,95.93L201.09,86.98L258.55,68.93L287.27,61.08L316,53.43L316,55.7L287.27,63.1L258.55,70.71L201.09,88.26L172.36,97.07L114.91,112.72L86.18,120.98L57.45,128.17L28.73,133.06L0,138.86Z" class="py"/></g></g><g><path d="M0,138.86L28.73,133.06L57.45,128.17L86.18,120.98L114.91,112.72L172.36,97.07L201.09,88.26L258.55,70.71L287.27,63.1L316,55.7" class="pz"/></g></g><g class="pv"><g><g><path d="M0,138.22L28.73,132.37L57.45,127.41L86.18,120.14L114.91,111.78L172.36,95.91L201.09,86.95L258.55,68.9L287.27,61.04L316,53.38L316,53.43L287.27,61.08L258.55,68.93L201.09,86.98L172.36,95.93L114.91,111.8L86.18,120.15L57.45,127.42L28.73,132.38L0,138.23Z" class="py"/></g></g><g><path d="M0,138.23L28.73,132.38L57.45,127.42L86.18,120.15L114.91,111.8L172.36,95.93L201.09,86.98L258.55,68.93L287.27,61.08L316,53.43" class="pz"/></g></g><g class="pv"><g><g><path d="M0,138.21L28.73,132.36L57.45,127.4L86.18,120.13L114.91,111.77L172.36,95.89L201.09,86.93L258.55,68.86L287.27,61L316,53.33L316,53.38L287.27,61.04L258.55,68.9L201.09,86.95L172.36,95.91L114.91,111.78L86.18,120.14L57.45,127.41L28.73,132.37L0,138.22Z" class="py"/></g></g><g><path d="M0,138.22L28.73,132.37L57.45,127.41L86.18,120.14L114.91,111.78L172.36,95.91L201.09,86.95L258.55,68.9L287.27,61.04L316,53.38" class="pz"/></g></g><g class="pv"><g><g><path d="M0,138.05L28.73,132.17L57.45,127.18L86.18,119.87L114.91,111.49L172.36,95.55L201.09,86.51L258.55,68.31L287.27,60.39L316,52.65L316,53.33L287.27,61L258.55,68.86L201.09,86.93L172.36,95.89L114.91,111.77L86.18,120.13L57.45,127.4L28.73,132.36L0,138.21Z" class="py"/></g></g><g><path d="M0,138.21L28.73,132.36L57.45,127.4L86.18,120.13L114.91,111.77L172.36,95.89L201.09,86.93L258.55,68.86L287.27,61L316,53.33" class="pz"/></g></g><g class="pv"><g><g><path d="M0,137.97L28.73,132.09L57.45,127.08L86.18,119.77L114.91,111.38L172.36,95.41L201.09,86.34L258.55,68.07L287.27,60.13L316,52.36L316,52.65L287.27,60.39L258.55,68.31L201.09,86.51L172.36,95.55L114.91,111.49L86.18,119.87L57.45,127.18L28.73,132.17L0,138.05Z" class="py"/></g></g><g><path d="M0,138.05L28.73,132.17L57.45,127.18L86.18,119.87L114.91,111.49L172.36,95.55L201.09,86.51L258.55,68.31L287.27,60.39L316,52.65" class="pz"/></g></g><g class="pv"><g><g><path d="M0,137.95L28.73,132.07L57.45,127.06L86.18,119.75L114.91,111.36L172.36,95.39L201.09,86.31L258.55,68.04L287.27,60.09L316,52.31L316,52.36L287.27,60.13L258.55,68.07L201.09,86.34L172.36,95.41L114.91,111.38L86.18,119.77L57.45,127.08L28.73,132.09L0,137.97Z" class="py"/></g></g><g><path d="M0,137.97L28.73,132.09L57.45,127.08L86.18,119.77L114.91,111.38L172.36,95.41L201.09,86.34L258.55,68.07L287.27,60.13L316,52.36" class="pz"/></g></g><g class="pv"><g><g><path d="M0,137.76L28.73,131.85L57.45,126.81L86.18,119.45L114.91,111L172.36,94.86L201.09,85.68L258.55,67.2L287.27,59.15L316,51.25L316,52.31L287.27,60.09L258.55,68.04L201.09,86.31L172.36,95.39L114.91,111.36L86.18,119.75L57.45,127.06L28.73,132.07L0,137.95Z" class="py"/></g></g><g><path d="M0,137.95L28.73,132.07L57.45,127.06L86.18,119.75L114.91,111.36L172.36,95.39L201.09,86.31L258.55,68.04L287.27,60.09L316,52.31" class="pz"/></g></g><g class="pv"><g><g><path d="M0,137.74L28.73,131.82L57.45,126.78L86.18,119.42L114.91,110.97L172.36,94.82L201.09,85.63L258.55,67.14L287.27,59.09L316,51.19L316,51.25L287.27,59.15L258.55,67.2L201.09,85.68L172.36,94.86L114.91,111L86.18,119.45L57.45,126.81L28.73,131.85L0,137.76Z" class="py"/></g></g><g><path d="M0,137.76L28.73,131.85L57.45,126.81L86.18,119.45L114.91,111L172.36,94.86L201.09,85.68L258.55,67.2L287.27,59.15L316,51.25" class="pz"/></g></g><g class="pv"><g><g><path d="M0,137.71L28.73,131.79L57.45,126.75L86.18,119.38L114.91,110.92L172.36,94.76L201.09,85.56L258.55,67.07L287.27,59.01L316,51.1L316,51.19L287.27,59.09L258.55,67.14L201.09,85.63L172.36,94.82L114.91,110.97L86.18,119.42L57.45,126.78L28.73,131.82L0,137.74Z" class="py"/></g></g><g><path d="M0,137.74L28.73,131.82L57.45,126.78L86.18,119.42L114.91,110.97L172.36,94.82L201.09,85.63L258.55,67.14L287.27,59.09L316,51.19" class="pz"/></g></g><g class="pv"><g><g><path d="M0,137.68L28.73,131.76L57.45,126.7L86.18,119.33L114.91,110.86L172.36,94.66L201.09,85.45L258.55,66.93L287.27,58.85L316,50.92L316,51.1L287.27,59.01L258.55,67.07L201.09,85.56L172.36,94.76L114.91,110.92L86.18,119.38L57.45,126.75L28.73,131.79L0,137.71Z" class="py"/></g></g><g><path d="M0,137.71L28.73,131.79L57.45,126.75L86.18,119.38L114.91,110.92L172.36,94.76L201.09,85.56L258.55,67.07L287.27,59.01L316,51.1" class="pz"/></g></g><g class="pv"><g><g><path d="M0,137.54L28.73,131.6L57.45,126.53L86.18,119.14L114.91,110.65L172.36,94.39L201.09,85.14L258.55,66.51L287.27,58.36L316,50.35L316,50.92L287.27,58.85L258.55,66.93L201.09,85.45L172.36,94.66L114.91,110.86L86.18,119.33L57.45,126.7L28.73,131.76L0,137.68Z" class="py"/></g></g><g><path d="M0,137.68L28.73,131.76L57.45,126.7L86.18,119.33L114.91,110.86L172.36,94.66L201.09,85.45L258.55,66.93L287.27,58.85L316,50.92" class="pz"/></g></g><g class="pv"><g><g><path d="M0,137.45L28.73,131.51L57.45,126.43L86.18,119.02L114.91,110.51L172.36,94.2L201.09,84.9L258.55,66.2L287.27,58.01L316,49.95L316,50.35L287.27,58.36L258.55,66.51L201.09,85.14L172.36,94.39L114.91,110.65L86.18,119.14L57.45,126.53L28.73,131.6L0,137.54Z" class="py"/></g></g><g><path d="M0,137.54L28.73,131.6L57.45,126.53L86.18,119.14L114.91,110.65L172.36,94.39L201.09,85.14L258.55,66.51L287.27,58.36L316,50.35" class="pz"/></g></g><g class="pv"><g><g><path d="M0,137.34L28.73,131.38L57.45,126.29L86.18,118.86L114.91,110.33L172.36,93.99L201.09,84.68L258.55,65.92L287.27,57.69L316,49.6L316,49.95L287.27,58.01L258.55,66.2L201.09,84.9L172.36,94.2L114.91,110.51L86.18,119.02L57.45,126.43L28.73,131.51L0,137.45Z" class="py"/></g></g><g><path d="M0,137.45L28.73,131.51L57.45,126.43L86.18,119.02L114.91,110.51L172.36,94.2L201.09,84.9L258.55,66.2L287.27,58.01L316,49.95" class="pz"/></g></g><g class="pv"><g><g><path d="M0,137.31L28.73,131.35L57.45,126.25L86.18,118.83L114.91,110.29L172.36,93.94L201.09,84.62L258.55,65.85L287.27,57.61L316,49.5L316,49.6L287.27,57.69L258.55,65.92L201.09,84.68L172.36,93.99L114.91,110.33L86.18,118.86L57.45,126.29L28.73,131.38L0,137.34Z" class="py"/></g></g><g><path d="M0,137.34L28.73,131.38L57.45,126.29L86.18,118.86L114.91,110.33L172.36,93.99L201.09,84.68L258.55,65.92L287.27,57.69L316,49.6" class="pz"/></g></g><g class="pv"><g><g><path d="M0,137.29L28.73,131.33L57.45,126.23L86.18,118.8L114.91,110.27L172.36,93.91L201.09,84.59L258.55,65.81L287.27,57.57L316,49.46L316,49.5L287.27,57.61L258.55,65.85L201.09,84.62L172.36,93.94L114.91,110.29L86.18,118.83L57.45,126.25L28.73,131.35L0,137.31Z" class="py"/></g></g><g><path d="M0,137.31L28.73,131.35L57.45,126.25L86.18,118.83L114.91,110.29L172.36,93.94L201.09,84.62L258.55,65.85L287.27,57.61L316,49.5" class="pz"/></g></g><g class="pv"><g><g><path d="M0,137L28.73,130.99L57.45,125.84L86.18,118.36L114.91,109.77L172.36,93.31L201.09,83.91L258.55,64.96L287.27,56.65L316,48.46L316,49.46L287.27,57.57L258.55,65.81L201.09,84.59L172.36,93.91L114.91,110.27L86.18,118.8L57.45,126.23L28.73,131.33L0,137.29Z" class="py"/></g></g><g><path d="M0,137.29L28.73,131.33L57.45,126.23L86.18,118.8L114.91,110.27L172.36,93.91L201.09,84.59L258.55,65.81L287.27,57.57L316,49.46" class="pz"/></g></g><g class="pv"><g><g><path d="M0,136.8L28.73,130.78L57.45,125.61L86.18,118.1L114.91,109.48L172.36,92.93L201.09,83.52L258.55,64.47L287.27,56.1L316,47.86L316,48.46L287.27,56.65L258.55,64.96L201.09,83.91L172.36,93.31L114.91,109.77L86.18,118.36L57.45,125.84L28.73,130.99L0,137Z" class="py"/></g></g><g><path d="M0,137L28.73,130.99L57.45,125.84L86.18,118.36L114.91,109.77L172.36,93.31L201.09,83.91L258.55,64.96L287.27,56.65L316,48.46" class="pz"/></g></g><g class="pv"><g><g><path d="M0,136.79L28.73,130.77L57.45,125.59L86.18,118.08L114.91,109.46L172.36,92.9L201.09,83.48L258.55,64.42L287.27,56.04L316,47.8L316,47.86L287.27,56.1L258.55,64.47L201.09,83.52L172.36,92.93L114.91,109.48L86.18,118.1L57.45,125.61L28.73,130.78L0,136.8Z" class="py"/></g></g><g><path d="M0,136.8L28.73,130.78L57.45,125.61L86.18,118.1L114.91,109.48L172.36,92.93L201.09,83.52L258.55,64.47L287.27,56.1L316,47.86" class="pz"/></g></g><g class="pv"><g><g><path d="M0,136.69L28.73,130.66L57.45,125.47L86.18,117.95L114.91,109.31L172.36,92.71L201.09,83.27L258.55,64.13L287.27,55.71L316,47.42L316,47.8L287.27,56.04L258.55,64.42L201.09,83.48L172.36,92.9L114.91,109.46L86.18,118.08L57.45,125.59L28.73,130.77L0,136.79Z" class="py"/></g></g><g><path d="M0,136.79L28.73,130.77L57.45,125.59L86.18,118.08L114.91,109.46L172.36,92.9L201.09,83.48L258.55,64.42L287.27,56.04L316,47.8" class="pz"/></g></g><g class="pv"><g><g><path d="M0,135.7L28.73,129.55L57.45,124.23L86.18,116.54L114.91,107.71L172.36,90.54L201.09,80.84L258.55,60.97L287.27,52.14L316,43.4L316,47.42L287.27,55.71L258.55,64.13L201.09,83.27L172.36,92.71L114.91,109.31L86.18,117.95L57.45,125.47L28.73,130.66L0,136.69Z" class="py"/></g></g><g><path d="M0,136.69L28.73,130.66L57.45,125.47L86.18,117.95L114.91,109.31L172.36,92.71L201.09,83.27L258.55,64.13L287.27,55.71L316,47.42" class="pz"/></g></g><g class="pv"><g><g><path d="M0,135.7L28.73,129.54L57.45,124.22L86.18,116.53L114.91,107.69L172.36,90.52L201.09,80.82L258.55,60.95L287.27,52.12L316,43.38L316,43.4L287.27,52.14L258.55,60.97L201.09,80.84L172.36,90.54L114.91,107.71L86.18,116.54L57.45,124.23L28.73,129.55L0,135.7Z" class="py"/></g></g><g><path d="M0,135.7L28.73,129.55L57.45,124.23L86.18,116.54L114.91,107.71L172.36,90.54L201.09,80.84L258.55,60.97L287.27,52.14L316,43.4" class="pz"/></g></g><g class="pv"><g><g><path d="M0,135.62L28.73,129.46L57.45,124.12L86.18,116.43L114.91,107.57L172.36,90.36L201.09,80.63L258.55,60.73L287.27,51.88L316,43.11L316,43.38L287.27,52.12L258.55,60.95L201.09,80.82L172.36,90.52L114.91,107.69L86.18,116.53L57.45,124.22L28.73,129.54L0,135.7Z" class="py"/></g></g><g><path d="M0,135.7L28.73,129.54L57.45,124.22L86.18,116.53L114.91,107.69L172.36,90.52L201.09,80.82L258.55,60.95L287.27,52.12L316,43.38" class="pz"/></g></g><g class="pv"><g><g><path d="M0,135.62L28.73,129.45L57.45,124.12L86.18,116.42L114.91,107.57L172.36,90.35L201.09,80.63L258.55,60.73L287.27,51.88L316,43.11L316,43.11L287.27,51.88L258.55,60.73L201.09,80.63L172.36,90.36L114.91,107.57L86.18,116.43L57.45,124.12L28.73,129.46L0,135.62Z" class="py"/></g></g><g><path d="M0,135.62L28.73,129.46L57.45,124.12L86.18,116.43L114.91,107.57L172.36,90.36L201.09,80.63L258.55,60.73L287.27,51.88L316,43.11" class="pz"/></g></g><g class="pv"><g><g><path d="M0,135.54L28.73,129.36L57.45,124.02L86.18,116.31L114.91,107.44L172.36,90.17L201.09,80.42L258.55,60.45L287.27,51.55L316,42.74L316,43.11L287.27,51.88L258.55,60.73L201.09,80.63L172.36,90.35L114.91,107.57L86.18,116.42L57.45,124.12L28.73,129.45L0,135.62Z" class="py"/></g></g><g><path d="M0,135.62L28.73,129.45L57.45,124.12L86.18,116.42L114.91,107.57L172.36,90.35L201.09,80.63L258.55,60.73L287.27,51.88L316,43.11" class="pz"/></g></g><g class="pv"><g><g><path d="M0,135.47L28.73,129.3L57.45,123.95L86.18,116.23L114.91,107.35L172.36,90.07L201.09,80.3L258.55,60.31L287.27,51.39L316,42.56L316,42.74L287.27,51.55L258.55,60.45L201.09,80.42L172.36,90.17L114.91,107.44L86.18,116.31L57.45,124.02L28.73,129.36L0,135.54Z" class="py"/></g></g><g><path d="M0,135.54L28.73,129.36L57.45,124.02L86.18,116.31L114.91,107.44L172.36,90.17L201.09,80.42L258.55,60.45L287.27,51.55L316,42.74" class="pz"/></g></g><g class="pv"><g><g><path d="M0,135.4L28.73,129.21L57.45,123.86L86.18,116.13L114.91,107.24L172.36,89.9L201.09,80.1L258.55,60.11L287.27,51.16L316,42.29L316,42.56L287.27,51.39L258.55,60.31L201.09,80.3L172.36,90.07L114.91,107.35L86.18,116.23L57.45,123.95L28.73,129.3L0,135.47Z" class="py"/></g></g><g><path d="M0,135.47L28.73,129.3L57.45,123.95L86.18,116.23L114.91,107.35L172.36,90.07L201.09,80.3L258.55,60.31L287.27,51.39L316,42.56" class="pz"/></g></g><g class="pv"><g><g><path d="M0,134.97L28.73,128.73L57.45,123.31L86.18,115.5L114.91,106.52L172.36,88.97L201.09,79.03L258.55,58.84L287.27,49.84L316,40.98L316,42.29L287.27,51.16L258.55,60.11L201.09,80.1L172.36,89.9L114.91,107.24L86.18,116.13L57.45,123.86L28.73,129.21L0,135.4Z" class="py"/></g></g><g><path d="M0,135.4L28.73,129.21L57.45,123.86L86.18,116.13L114.91,107.24L172.36,89.9L201.09,80.1L258.55,60.11L287.27,51.16L316,42.29" class="pz"/></g></g><g class="pv"><g><g><path d="M0,134.72L28.73,128.44L57.45,122.98L86.18,115.12L114.91,106.09L172.36,88.36L201.09,78.29L258.55,57.88L287.27,48.74L316,39.72L316,40.98L287.27,49.84L258.55,58.84L201.09,79.03L172.36,88.97L114.91,106.52L86.18,115.5L57.45,123.31L28.73,128.73L0,134.97Z" class="py"/></g></g><g><path d="M0,134.97L28.73,128.73L57.45,123.31L86.18,115.5L114.91,106.52L172.36,88.97L201.09,79.03L258.55,58.84L287.27,49.84L316,40.98" class="pz"/></g></g><g class="pv"><g><g><path d="M0,134.71L28.73,128.43L57.45,122.97L86.18,115.11L114.91,106.08L172.36,88.34L201.09,78.27L258.55,57.85L287.27,48.7L316,39.69L316,39.72L287.27,48.74L258.55,57.88L201.09,78.29L172.36,88.36L114.91,106.09L86.18,115.12L57.45,122.98L28.73,128.44L0,134.72Z" class="py"/></g></g><g><path d="M0,134.72L28.73,128.44L57.45,122.98L86.18,115.12L114.91,106.09L172.36,88.36L201.09,78.29L258.55,57.88L287.27,48.74L316,39.72" class="pz"/></g></g><g class="pv"><g><g><path d="M0,134.46L28.73,128.15L57.45,122.64L86.18,114.73L114.91,105.64L172.36,87.75L201.09,77.58L258.55,56.94L287.27,47.68L316,38.55L316,39.69L287.27,48.7L258.55,57.85L201.09,78.27L172.36,88.34L114.91,106.08L86.18,115.11L57.45,122.97L28.73,128.43L0,134.71Z" class="py"/></g></g><g><path d="M0,134.71L28.73,128.43L57.45,122.97L86.18,115.11L114.91,106.08L172.36,88.34L201.09,78.27L258.55,57.85L287.27,48.7L316,39.69" class="pz"/></g></g><g class="pv"><g><g><path d="M0,134.43L28.73,128.11L57.45,122.6L86.18,114.68L114.91,105.58L172.36,87.67L201.09,77.49L258.55,56.81L287.27,47.53L316,38.38L316,38.55L287.27,47.68L258.55,56.94L201.09,77.58L172.36,87.75L114.91,105.64L86.18,114.73L57.45,122.64L28.73,128.15L0,134.46Z" class="py"/></g></g><g><path d="M0,134.46L28.73,128.15L57.45,122.64L86.18,114.73L114.91,105.64L172.36,87.75L201.09,77.58L258.55,56.94L287.27,47.68L316,38.55" class="pz"/></g></g><g class="pv"><g><g><path d="M0,134.32L28.73,127.99L57.45,122.47L86.18,114.54L114.91,105.42L172.36,87.47L201.09,77.26L258.55,56.53L287.27,47.24L316,38.08L316,38.38L287.27,47.53L258.55,56.81L201.09,77.49L172.36,87.67L114.91,105.58L86.18,114.68L57.45,122.6L28.73,128.11L0,134.43Z" class="py"/></g></g><g><path d="M0,134.43L28.73,128.11L57.45,122.6L86.18,114.68L114.91,105.58L172.36,87.67L201.09,77.49L258.55,56.81L287.27,47.53L316,38.38" class="pz"/></g></g><g class="pv"><g><g><path d="M0,134.15L28.73,127.79L57.45,122.24L86.18,114.28L114.91,105.12L172.36,87.09L201.09,76.81L258.55,55.9L287.27,46.5L316,37.21L316,38.08L287.27,47.24L258.55,56.53L201.09,77.26L172.36,87.47L114.91,105.42L86.18,114.54L57.45,122.47L28.73,127.99L0,134.32Z" class="py"/></g></g><g><path d="M0,134.32L28.73,127.99L57.45,122.47L86.18,114.54L114.91,105.42L172.36,87.47L201.09,77.26L258.55,56.53L287.27,47.24L316,38.08" class="pz"/></g></g><g class="pv"><g><g><path d="M0,134.07L28.73,127.7L57.45,122.14L86.18,114.16L114.91,104.98L172.36,86.91L201.09,76.59L258.55,55.62L287.27,46.19L316,36.86L316,37.21L287.27,46.5L258.55,55.9L201.09,76.81L172.36,87.09L114.91,105.12L86.18,114.28L57.45,122.24L28.73,127.79L0,134.15Z" class="py"/></g></g><g><path d="M0,134.15L28.73,127.79L57.45,122.24L86.18,114.28L114.91,105.12L172.36,87.09L201.09,76.81L258.55,55.9L287.27,46.5L316,37.21" class="pz"/></g></g><g class="pv"><g><g><path d="M0,133.98L28.73,127.6L57.45,122.01L86.18,114.01L114.91,104.81L172.36,86.68L201.09,76.31L258.55,55.28L287.27,45.83L316,36.49L316,36.86L287.27,46.19L258.55,55.62L201.09,76.59L172.36,86.91L114.91,104.98L86.18,114.16L57.45,122.14L28.73,127.7L0,134.07Z" class="py"/></g></g><g><path d="M0,134.07L28.73,127.7L57.45,122.14L86.18,114.16L114.91,104.98L172.36,86.91L201.09,76.59L258.55,55.62L287.27,46.19L316,36.86" class="pz"/></g></g><g class="pv"><g><g><path d="M0,133.44L28.73,127.01L57.45,121.38L86.18,113.33L114.91,104.07L172.36,85.81L201.09,75.37L258.55,54.21L287.27,44.69L316,35.29L316,36.49L287.27,45.83L258.55,55.28L201.09,76.31L172.36,86.68L114.91,104.81L86.18,114.01L57.45,122.01L28.73,127.6L0,133.98Z" class="p10"/></g></g><g><path d="M0,133.98L28.73,127.6L57.45,122.01L86.18,114.01L114.91,104.81L172.36,86.68L201.09,76.31L258.55,55.28L287.27,45.83L316,36.49" class="pz"/></g></g><g class="pv"><g><g><path d="M0,133.36L28.73,126.92L57.45,121.27L86.18,113.21L114.91,103.93L172.36,85.64L201.09,75.19L258.55,53.98L287.27,44.44L316,35.02L316,35.29L287.27,44.69L258.55,54.21L201.09,75.37L172.36,85.81L114.91,104.07L86.18,113.33L57.45,121.38L28.73,127.01L0,133.44Z" class="p10"/></g></g><g><path d="M0,133.44L28.73,127.01L57.45,121.38L86.18,113.33L114.91,104.07L172.36,85.81L201.09,75.37L258.55,54.21L287.27,44.69L316,35.29" class="p11"/></g></g><g class="pv"><g><g><path d="M0,131.67L57.45,119.01L86.18,110.59L172.36,81.8L201.09,70.94L258.55,48.96L287.27,39.09L316,29.37L316,35.02L287.27,44.44L258.55,53.98L201.09,75.19L172.36,85.64L114.91,103.93L86.18,113.21L57.45,121.27L28.73,126.92L0,133.36Z" class="p10"/></g></g><g><path d="M0,133.36L28.73,126.92L57.45,121.27L86.18,113.21L114.91,103.93L172.36,85.64L201.09,75.19L258.55,53.98L287.27,44.44L316,35.02" class="p11"/></g></g><g class="pv"><g><g><path d="M0,131.23L57.45,118.44L86.18,109.97L172.36,81.05L201.09,70.15L258.55,48.06L287.27,38.14L316,28.38L316,29.37L287.27,39.09L258.55,48.96L201.09,70.94L172.36,81.8L86.18,110.59L57.45,119.01L0,131.67Z" class="p10"/></g></g><g><path d="M0,131.67L57.45,119.01L86.18,110.59L172.36,81.8L201.09,70.94L258.55,48.96L287.27,39.09L316,29.37" class="p11"/></g></g><g class="pv"><g><g><path d="M0,131.04L57.45,118.21L86.18,109.71L172.36,80.71L201.09,69.78L258.55,47.63L287.27,37.68L316,27.89L316,28.38L287.27,38.14L258.55,48.06L201.09,70.15L172.36,81.05L86.18,109.97L57.45,118.44L0,131.23Z" class="p10"/></g></g><g><path d="M0,131.23L57.45,118.44L86.18,109.97L172.36,81.05L201.09,70.15L258.55,48.06L287.27,38.14L316,28.38" class="p11"/></g></g><g class="pv"><g><g><path d="M0,130.68L57.45,117.7L86.18,109.12L172.36,79.88L201.09,68.86L258.55,46.51L287.27,36.46L316,26.58L316,27.89L287.27,37.68L258.55,47.63L201.09,69.78L172.36,80.71L86.18,109.71L57.45,118.21L0,131.04Z" class="p10"/></g></g><g><path d="M0,131.04L57.45,118.21L86.18,109.71L172.36,80.71L201.09,69.78L258.55,47.63L287.27,37.68L316,27.89" class="p11"/></g></g><g class="pv"><g><g><path d="M0,130.65L57.45,117.66L86.18,109.07L172.36,79.81L201.09,68.77L258.55,46.4L287.27,36.34L316,26.45L316,26.58L287.27,36.46L258.55,46.51L201.09,68.86L172.36,79.88L86.18,109.12L57.45,117.7L0,130.68Z" class="p10"/></g></g><g><path d="M0,130.68L57.45,117.7L86.18,109.12L172.36,79.88L201.09,68.86L258.55,46.51L287.27,36.46L316,26.58" class="p11"/></g></g><g class="pv"><g><g><path d="M0,130.47L57.45,117.45L86.18,108.83L172.36,79.52L201.09,68.47L258.55,46.07L287.27,36.01L316,26.11L316,26.45L287.27,36.34L258.55,46.4L201.09,68.77L172.36,79.81L86.18,109.07L57.45,117.66L0,130.65Z" class="p10"/></g></g><g><path d="M0,130.65L57.45,117.66L86.18,109.07L172.36,79.81L201.09,68.77L258.55,46.4L287.27,36.34L316,26.45" class="p11"/></g></g><g class="pv"><g><g><path d="M0,130.4L57.45,117.34L86.18,108.71L172.36,79.34L201.09,68.27L258.55,45.84L287.27,35.75L316,25.84L316,26.11L287.27,36.01L258.55,46.07L201.09,68.47L172.36,79.52L86.18,108.83L57.45,117.45L0,130.47Z" class="p10"/></g></g><g><path d="M0,130.47L57.45,117.45L86.18,108.83L172.36,79.52L201.09,68.47L258.55,46.07L287.27,36.01L316,26.11" class="p11"/></g></g><g class="pv"><g><g><path d="M0,130.29L57.45,117.2L86.18,108.55L172.36,79.09L201.09,67.99L258.55,45.48L287.27,35.37L316,25.43L316,25.84L287.27,35.75L258.55,45.84L201.09,68.27L172.36,79.34L86.18,108.71L57.45,117.34L0,130.4Z" class="p10"/></g></g><g><path d="M0,130.4L57.45,117.34L86.18,108.71L172.36,79.34L201.09,68.27L258.55,45.84L287.27,35.75L316,25.84" class="p11"/></g></g><g class="pv"><g><g><path d="M0,130.23L57.45,117.12L86.18,108.45L172.36,78.96L201.09,67.84L258.55,45.31L287.27,35.18L316,25.22L316,25.43L287.27,35.37L258.55,45.48L201.09,67.99L172.36,79.09L86.18,108.55L57.45,117.2L0,130.29Z" class="p10"/></g></g><g><path d="M0,130.29L57.45,117.2L86.18,108.55L172.36,79.09L201.09,67.99L258.55,45.48L287.27,35.37L316,25.43" class="p11"/></g></g><g class="pv"><g><g><path d="M0,130.14L57.45,117L86.18,108.31L172.36,78.77L201.09,67.62L258.55,45.02L287.27,34.84L316,24.85L316,25.22L287.27,35.18L258.55,45.31L201.09,67.84L172.36,78.96L86.18,108.45L57.45,117.12L0,130.23Z" class="p10"/></g></g><g><path d="M0,130.23L57.45,117.12L86.18,108.45L172.36,78.96L201.09,67.84L258.55,45.31L287.27,35.18L316,25.22" class="p11"/></g></g><g class="pv"><g><g><path d="M0,130.04L57.45,116.88L86.18,108.18L172.36,78.62L201.09,67.45L258.55,44.81L287.27,34.62L316,24.59L316,24.85L287.27,34.84L258.55,45.02L201.09,67.62L172.36,78.77L86.18,108.31L57.45,117L0,130.14Z" class="p10"/></g></g><g><path d="M0,130.14L57.45,117L86.18,108.31L172.36,78.77L201.09,67.62L258.55,45.02L287.27,34.84L316,24.85" class="p11"/></g></g><g class="pv"><g><g><path d="M0,130L57.45,116.82L86.18,108.11L172.36,78.51L201.09,67.32L258.55,44.64L287.27,34.42L316,24.37L316,24.59L287.27,34.62L258.55,44.81L201.09,67.45L172.36,78.62L86.18,108.18L57.45,116.88L0,130.04Z" class="p10"/></g></g><g><path d="M0,130.04L57.45,116.88L86.18,108.18L172.36,78.62L201.09,67.45L258.55,44.81L287.27,34.62L316,24.59" class="p11"/></g></g><g class="pv"><g><g><path d="M0,129.95L57.45,116.77L86.18,108.05L172.36,78.44L201.09,67.25L258.55,44.56L287.27,34.34L316,24.29L316,24.37L287.27,34.42L258.55,44.64L201.09,67.32L172.36,78.51L86.18,108.11L57.45,116.82L0,130Z" class="p10"/></g></g><g><path d="M0,130L57.45,116.82L86.18,108.11L172.36,78.51L201.09,67.32L258.55,44.64L287.27,34.42L316,24.37" class="p11"/></g></g><g class="pv"><g><g><path d="M0,129.06L57.45,115.55L86.18,106.62L172.36,76.31L201.09,64.87L258.55,41.71L287.27,31.29L316,21.05L316,24.29L287.27,34.34L258.55,44.56L201.09,67.25L172.36,78.44L86.18,108.05L57.45,116.77L0,129.95Z" class="p10"/></g></g><g><path d="M0,129.95L57.45,116.77L86.18,108.05L172.36,78.44L201.09,67.25L258.55,44.56L287.27,34.34L316,24.29" class="p11"/></g></g><g class="pv"><g><g><path d="M0,129.02L57.45,115.5L86.18,106.57L172.36,76.22L201.09,64.77L258.55,41.57L287.27,31.14L316,20.88L316,21.05L287.27,31.29L258.55,41.71L201.09,64.87L172.36,76.31L86.18,106.62L57.45,115.55L0,129.06Z" class="p10"/></g></g><g><path d="M0,129.06L57.45,115.55L86.18,106.62L172.36,76.31L201.09,64.87L258.55,41.71L287.27,31.29L316,21.05" class="p11"/></g></g><g class="pv"><g><g><path d="M0,128.99L57.45,115.46L86.18,106.53L172.36,76.16L201.09,64.7L258.55,41.49L287.27,31.05L316,20.79L316,20.88L287.27,31.14L258.55,41.57L201.09,64.77L172.36,76.22L86.18,106.57L57.45,115.5L0,129.02Z" class="p10"/></g></g><g><path d="M0,129.02L57.45,115.5L86.18,106.57L172.36,76.22L201.09,64.77L258.55,41.57L287.27,31.14L316,20.88" class="p11"/></g></g><g class="pv"><g><g><path d="M0,128.95L57.45,115.4L86.18,106.46L172.36,76.06L201.09,64.59L258.55,41.34L287.27,30.87L316,20.59L316,20.79L287.27,31.05L258.55,41.49L201.09,64.7L172.36,76.16L86.18,106.53L57.45,115.46L0,128.99Z" class="p10"/></g></g><g><path d="M0,128.99L57.45,115.46L86.18,106.53L172.36,76.16L201.09,64.7L258.55,41.49L287.27,31.05L316,20.79" class="p11"/></g></g><g class="pv"><g><g><path d="M0,128.71L57.45,115.09L86.18,106.1L172.36,75.52L201.09,63.99L258.55,40.6L287.27,30.08L316,19.74L316,20.59L287.27,30.87L258.55,41.34L201.09,64.59L172.36,76.06L86.18,106.46L57.45,115.4L0,128.95Z" class="p10"/></g></g><g><path d="M0,128.95L57.45,115.4L86.18,106.46L172.36,76.06L201.09,64.59L258.55,41.34L287.27,30.87L316,20.59" class="p11"/></g></g><g class="pv"><g><g><path d="M0,128.64L57.45,115.02L86.18,106.02L172.36,75.42L201.09,63.88L258.55,40.49L287.27,29.96L316,19.62L316,19.74L287.27,30.08L258.55,40.6L201.09,63.99L172.36,75.52L86.18,106.1L57.45,115.09L0,128.71Z" class="p10"/></g></g><g><path d="M0,128.71L57.45,115.09L86.18,106.1L172.36,75.52L201.09,63.99L258.55,40.6L287.27,30.08L316,19.74" class="p11"/></g></g><g class="pv"><g><g><path d="M0,128.62L57.45,114.99L86.18,105.99L172.36,75.39L201.09,63.85L258.55,40.46L287.27,29.93L316,19.59L316,19.62L287.27,29.96L258.55,40.49L201.09,63.88L172.36,75.42L86.18,106.02L57.45,115.02L0,128.64Z" class="p10"/></g></g><g><path d="M0,128.64L57.45,115.02L86.18,106.02L172.36,75.42L201.09,63.88L258.55,40.49L287.27,29.96L316,19.62" class="p11"/></g></g><g class="pv"><g><g><path d="M0,123.93L57.45,109.44L86.18,100.08L172.36,68.48L201.09,56.62L258.55,32.34L287.27,21.37L316,10.63L316,19.59L287.27,29.93L258.55,40.46L201.09,63.85L172.36,75.39L86.18,105.99L57.45,114.99L0,128.62Z" class="p10"/></g></g><g><path d="M0,128.62L57.45,114.99L86.18,105.99L172.36,75.39L201.09,63.85L258.55,40.46L287.27,29.93L316,19.59" class="p11"/></g></g><g class="pv"><g><g><path d="M0,123.87L57.45,109.36L86.18,100L172.36,68.39L201.09,56.53L258.55,32.24L287.27,21.27L316,10.53L316,10.63L287.27,21.37L258.55,32.34L201.09,56.62L172.36,68.48L86.18,100.08L57.45,109.44L0,123.93Z" class="p10"/></g></g><g><path d="M0,123.93L57.45,109.44L86.18,100.08L172.36,68.48L201.09,56.62L258.55,32.34L287.27,21.37L316,10.63" class="p11"/></g></g><g class="pv"><g><g><path d="M0,123.71L57.45,109.12L86.18,99.71L172.36,67.93L201.09,56L258.55,31.57L287.27,20.55L316,9.75L316,10.53L287.27,21.27L258.55,32.24L201.09,56.53L172.36,68.39L86.18,100L57.45,109.36L0,123.87Z" class="p10"/></g></g><g><path d="M0,123.87L57.45,109.36L86.18,100L172.36,68.39L201.09,56.53L258.55,32.24L287.27,21.27L316,10.53" class="p11"/></g></g><g class="pv"><g><path d="M0,123.71L57.45,109.12L86.18,99.71L172.36,67.93L201.09,56L258.55,31.57L287.27,20.55L316,9.75" class="p11"/></g></g></g></g></g><path d="M0,0" class="p4"/><path d="M0,0" class="p4"/><g><g><text text-anchor="middle" x="0" y="238" transform="translate(88.96,0)" class="p5">1960</text></g><g><text text-anchor="middle" x="0" y="238" class="p5" transform="translate(203.87,0)">1980</text></g><g><text text-anchor="middle" x="0" y="238" class="p5" transform="translate(318.78,0)">2000</text></g></g><g><g><text text-anchor="end" x="42" y="4.2" transform="translate(0,225)" class="p5">0</text></g><g><text text-anchor="end" x="42" y="4.2" class="p5" transform="translate(0,165.5)">2B</text></g><g><text text-anchor="end" x="42" y="4.2" class="p5" transform="translate(0,105.99)">4B</text></g><g><text text-anchor="end" x="42" y="4.2" class="p5" transform="translate(0,46.49)">6B</text></g></g></g></g></svg><svg width="466" height="266"><defs><clipPath id="p2c1"><rect width="101" height="105" x="0" y="0"/></clipPath></defs><g><g transform="translate(-0.4,0)translate(365,30)"><rect shape-rendering="crispEdges" width="101" height="105" x="0" y="0" class="pb"/><g clip-path="url(#p2c1)"><text text-anchor="start" x="2" y="19.20" class="pc">continent</text><g><g transform="translate(0,32.7)" class="pe"><text text-anchor="start" x="40" y="5.68" class="p5">Asia</text><g><g><path d="M5,-2h30v6h-30z" class="p12"/></g><g><path d="M5,-2h30" class="p13"/></g></g><rect x="0" y="-9.5" width="95.77" height="19" class="pf"/></g></g><g><g transform="translate(0,51.7)" class="pe"><text text-anchor="start" x="40" y="5.68" class="p5">Europe</text><g><g><path d="M5,-2h30v6h-30z" class="p14"/></g><g><path d="M5,-2h30" class="p15"/></g></g><rect x="0" y="-9.5" width="95.77" height="19" class="pf"/></g></g><g><g transform="translate(0,70.7)" class="pe"><text text-anchor="start" x="40" y="5.68" class="p5">Africa</text><g><g><path d="M5,-2h30v6h-30z" class="p16"/></g><g><path d="M5,-2h30" class="p17"/></g></g><rect x="0" y="-9.5" width="95.77" height="19" class="pf"/></g></g><g><g transform="translate(0,89.7)" class="pe"><text text-anchor="start" x="40" y="5.68" class="p5">Americas</text><g><g><path d="M5,-2h30v6h-30z" class="p18"/></g><g><path d="M5,-2h30" class="p19"/></g></g><rect x="0" y="-9.5" width="95.77" height="19" class="pf"/></g></g></g><rect rx="20" ry="3" width="0" height="0" x="0" y="0" class="pj"/></g><g transform="translate(0,-1.2)translate(0,-2.3)"><text x="201" y="265.3" text-anchor="middle" class="pn">year</text></g><g transform="translate(2,0)translate(6.28,0)"><text transform="rotate(-90,6.73,127.5)" x="6.73" y="127.5" text-anchor="middle" class="pn">pop</text></g></g></svg></div></div></div>
<div class="card" style="left:533.9px;top:599.9px;width:500.2px;height:344px"><div class="hd">Life Expectancy</div><div class="plot" id="p3" style="top:60px;left:16.1px"><div style="position:relative;width:466px;height:266px"><svg width="466" height="266" class="pa"><defs><g><clipPath id="p3c0"><rect width="316" height="195"/></clipPath></g></defs><g><rect x="42" y="30" width="317" height="195" class="p0"/></g><g><g><g><g><path transform="translate(88.11,0)" d="M0,30v195" class="p1"/><path transform="translate(203.38,0)" d="M0,30v195" class="p1"/><path transform="translate(318.65,0)" d="M0,30v195" class="p1"/></g><g><path transform="translate(0,166.47)" d="M42,0h317" class="p1"/><path transform="translate(0,106.98)" d="M42,0h317" class="p1"/><path transform="translate(0,47.49)" d="M42,0h317" class="p1"/></g></g><path/><path/><g><g transform="translate(42,30)" clip-path="url(#p3c0)"><g><g class="p3"><g><path d="M0,169.78L57.64,160.27L86.45,154.25L115.27,148.1L144.09,141.11L172.91,136.9L201.73,134.02L230.55,131.49L259.36,131.22L288.18,130.13L317,125.08" class="pu"/></g></g><g class="p3"><g><path d="M0,103.93L57.64,86.13L86.45,77.21L115.27,67.16L144.09,60.34L172.91,50.06L201.73,45.01L230.55,39.5L259.36,35.56L317,30.48" class="pu"/></g></g><g class="p3"><g><path d="M0,143.95L57.64,132.85L86.45,126.2L144.09,115.88L172.91,106.7L201.73,98.34L230.55,88.82L259.36,78.73L288.18,70.99L317,64.9" class="pu"/></g></g><g class="p3"><g><path d="M0,138.2L86.45,120.36L115.27,135.52L144.09,162.58L172.91,103.88L201.73,95.08L230.55,89.46L259.36,87.29L288.18,86.64L317,77.8" class="pu"/></g></g><g class="p3"><g><path d="M0,124.57L28.82,105.09L57.64,123.08L86.45,81.79L115.27,67.7L144.09,65.18L172.91,60.55L201.73,55.34L230.55,51.13L288.18,41.2L317,38.43" class="pu"/></g></g><g class="p3"><g><path d="M0,74.12L28.82,62.85L57.64,54.23L86.45,47.24L115.27,41.29L172.91,31.03L201.73,28.79L230.55,24.63L259.36,17.49L288.18,13.05L317,10.92" class="pu"/></g></g><g class="p3"><g><path d="M0,144.28L28.82,135.73L57.64,125.74L144.09,94.21L172.91,87.1L201.73,81.28L230.55,76.32L259.36,71.73L288.18,68.42L317,63.01" class="pu"/></g></g><g class="p3"><g><path d="M0,144L57.64,128.98L86.45,118.73L144.09,98.69L172.91,88.4L201.73,76.57L230.55,69.01L259.36,59.01L288.18,51.44L317,45.3" class="pu"/></g></g><g class="p3"><g><path d="M0,121.99L57.64,108.73L86.45,99.38L115.27,91.16L144.09,83.81L172.91,78.11L201.73,67.94L230.55,59.9L259.36,53.06L317,44.37" class="pu"/></g></g><g class="p3"><g><path d="M0,120.64L86.45,93.46L115.27,86.05L144.09,75.75L172.91,70.92L201.73,61.98L230.55,78.58L259.36,80.52L288.18,85.77L317,78.33" class="pu"/></g></g><g class="p3"><g><path d="M0,60.95L28.82,53.66L57.64,49.05L86.45,45.01L115.27,42.39L172.91,34L201.73,30.58L288.18,18.4L317,15.28" class="pu"/></g></g><g class="p3"><g><path d="M0,67.97L28.82,60.62L57.64,51.01L86.45,42.98L115.27,37.06L172.91,26.09L201.73,21.45L230.55,19.4L259.36,15.44L288.18,11.54L317,9.75" class="pu"/></g></g><g class="p3"><g><path d="M0,127.07L57.64,112.3L86.45,101.88L115.27,87.31L144.09,73.61L172.91,65.86L201.73,59.52L230.55,53.14L259.36,47.91L317,39.7" class="pu"/></g></g><g class="p3"><g><path d="M0,106.56L28.82,94.59L57.64,86.93L86.45,77.15L115.27,65.13L144.09,55.69L172.91,49.91L201.73,45.31L230.55,47.3L259.36,54L288.18,57.16L317,55.28" class="pu"/></g></g><g class="p3"><g><path d="M0,114.3L28.82,98.75L57.64,90.98L86.45,83.77L115.27,69.21L172.91,55.79L201.73,47.8L288.18,26.28L317,21.59" class="pu"/></g></g><g class="p3"><g><path d="M0,90.17L57.64,75.58L86.45,63.23L115.27,54.04L144.09,49.19L172.91,43.34L201.73,34.82L259.36,28.93L288.18,26.7L317,24.67" class="pu"/></g></g><g class="p3"><g><path d="M0,89.09L28.82,78.5L57.64,70.75L115.27,60.86L144.09,58.84L201.73,53.4L230.55,49.34L317,41.31" class="pu"/></g></g><g class="p3"><g><path d="M0,111.3L115.27,68.03L144.09,61.35L172.91,53.18L201.73,48.72L317,34.62" class="pu"/></g></g><g class="p3"><g><path d="M0,129.79L86.45,103L115.27,95.56L144.09,90.39L172.91,84.45L201.73,76.32L230.55,73.2L259.36,66.2L288.18,62.01L317,56.75" class="pu"/></g></g><g class="p3"><g><path d="M0,147.42L28.82,130.8L57.64,121.27L86.45,108.57L115.27,97.59L144.09,88.7L172.91,82.76L201.73,81.92L230.55,79L259.36,76L288.18,77.25L317,70.83" class="pu"/></g></g><g class="p3"><g><path d="M0,147.9L57.64,138.27L86.45,132.09L115.27,124.66L144.09,116.4L201.73,99.18L230.55,89.69L259.36,78.69L288.18,72.99L317,65.72" class="pu"/></g></g><g class="p3"><g><path d="M0,143.67L28.82,136.23L57.64,127.05L86.45,115.68L115.27,100.35L201.73,53.98L230.55,43.68L259.36,39.8L288.18,34.76L317,30.46" class="pu"/></g></g><g class="p3"><g><path d="M0,126.25L201.73,82.2L230.55,74.49L259.36,71.57L288.18,66.24L317,60.67" class="pu"/></g></g><g class="p3"><g><path d="M0,113.41L57.64,92.57L86.45,87.71L115.27,82.74L144.09,76.8L201.73,64.63L230.55,57.77L259.36,51.51L288.18,46.33L317,42.22" class="pu"/></g></g><g class="p3"><g><path d="M0,136.84L57.64,118.88L86.45,107.02L115.27,95.17L144.09,80.88L172.91,68.02L201.73,58.26L230.55,50.9L259.36,45.65L317,38.98" class="pu"/></g></g><g class="p3"><g><path d="M0,75.8L57.64,59.73L86.45,53.35L115.27,48.66L144.09,44.87L172.91,42L201.73,36.65L230.55,30.02L259.36,25.95L288.18,21.15L317,17.58" class="pu"/></g></g><g class="p3"><g><path d="M0,84.14L28.82,72.65L57.64,70.46L86.45,64.29L115.27,61.98L144.09,59.29L172.91,50.93L201.73,50.18L230.55,46.11L259.36,45.88L288.18,44.81L317,40.11" class="pu"/></g></g><g class="p3"><g><path d="M0,118.97L28.82,111.83L57.64,105.82L86.45,95.85L115.27,85.02L144.09,73.43L172.91,63.33L259.36,42.69L288.18,38.16L317,34.91" class="pu"/></g></g><g class="p3"><g><path d="M0,81.44L28.82,69.84L57.64,61.51L86.45,54.67L115.27,49.05L144.09,45.48L172.91,40.81L201.73,37.12L230.55,34.57L259.36,31.62L288.18,26.45L317,22.25" class="pu"/></g></g><g class="p3"><g><path d="M0,104.2L28.82,95.93L57.64,88.7L144.09,69.56L172.91,63.31L201.73,58.88L230.55,55.27L259.36,54.61L288.18,51.51L317,45.4" class="pu"/></g></g><g class="p3"><g><path d="M0,135.24L115.27,105.97L144.09,89.58L172.91,80.5L201.73,68.59L230.55,54.19L259.36,45.24L288.18,38.26L317,34.6" class="pu"/></g></g><g class="p3"><g><path d="M0,127.07L57.64,112.29L86.45,101.87L115.27,87.29L144.09,74.7L172.91,63.87L201.73,56.02L230.55,48.07L259.36,43.98L317,37.06" class="pu"/></g></g><g class="p3"><g><path d="M0,158.63L57.64,150.8L86.45,145.44L115.27,136.92L144.09,124.05L172.91,109.36L201.73,98.03L259.36,82.87L288.18,76.06L317,68.95" class="pu"/></g></g><g class="p3"><g><path d="M0,91.17L28.82,79.12L57.64,62.64L172.91,45.99L201.73,41.29L230.55,42.53L259.36,38.46L288.18,30.43L317,28.13" class="px"/></g></g><g class="p3"><g><path d="M0,56.75L28.82,54.73L57.64,48.6L115.27,45.36L144.09,40.78L172.91,37.78L201.73,32.54L230.55,29.27L259.36,24.9L288.18,20.53L317,18" class="px"/></g></g><g class="p3"><g><path d="M0,53.18L57.64,46.49L86.45,44.44L115.27,42.95L144.09,38.91L172.91,35.55L201.73,31.32L259.36,24.84L288.18,22.49L317,19.15" class="px"/></g></g><g class="p3"><g><path d="M0,95.36L28.82,81.59L57.64,71.24L115.27,54.82L144.09,47.65L172.91,45.18L201.73,43.85L288.18,35.07L317,32.8" class="px"/></g></g><g class="p3"><g><path d="M0,78.17L28.82,57.32L57.64,48.69L86.45,45.99L115.27,44.56L144.09,44.83L172.91,44.02L201.73,43.25L230.55,43.7L259.36,46.28L288.18,40.87L317,38.3" class="px"/></g></g><g class="p3"><g><path d="M0,73.38L28.82,62.79L57.64,55.77L86.45,51.7L115.27,48.4L144.09,45.33L172.91,45.87L317,30.14" class="px"/></g></g><g class="p3"><g><path d="M0,56.55L28.82,50.12L57.64,47.53L86.45,46.11L115.27,46.37L201.73,42.54L230.55,40.1L288.18,30.85L317,27.94" class="px"/></g></g><g class="p3"><g><path d="M0,44.92L28.82,41.85L57.64,40.25L115.27,36.91L144.09,33.29L201.73,32.96L230.55,31.38L259.36,29.06L288.18,25.88L317,22.45" class="px"/></g></g><g class="p3"><g><path d="M0,57.5L28.82,54.7L57.64,50.95L115.27,44.65L144.09,39.74L172.91,33.7L201.73,32.87L230.55,30.28L259.36,26.03L288.18,22.34L317,19.54" class="px"/></g></g><g class="p3"><g><path d="M0,54.94L57.64,45.72L86.45,42.63L115.27,40.16L144.09,35.84L172.91,32.69L201.73,28.38L317,15.54" class="px"/></g></g><g class="p3"><g><path d="M0,54.67L28.82,49.91L57.64,46.34L86.45,44.86L115.27,44.26L172.91,35.93L201.73,32.82L288.18,21.45L317,19.26" class="px"/></g></g><g class="p3"><g><path d="M0,59.55L28.82,53.6L57.64,48.69L115.27,40.28L144.09,36.29L201.73,27.4L230.55,26.33L259.36,23.83L288.18,22.68L317,19.03" class="px"/></g></g><g class="p3"><g><path d="M0,64.99L28.82,57.91L57.64,53.3L86.45,48.72L115.27,47.95L144.09,47.38L172.91,49.05L201.73,48.49L230.55,49.7L259.36,44.14L288.18,39.53L317,37.31" class="px"/></g></g><g class="p3"><g><path d="M0,39.83L28.82,36.91L57.64,36.29L86.45,36.14L115.27,33.97L144.09,29.06L172.91,26.45L201.73,25.73L230.55,21.15L259.36,20.62L288.18,16.01L317,12.27" class="px"/></g></g><g class="p3"><g><path d="M0,56.43L28.82,50.51L57.64,46.37L86.45,44.02L115.27,43.43L144.09,41.2L172.91,38.02L230.55,30.98L259.36,29.03L288.18,24.09L317,20.81" class="px"/></g></g><g class="p3"><g><path d="M0,59.31L28.82,53.75L57.64,49.5L86.45,44.08L115.27,40.72L172.91,32.42L201.73,28.14L230.55,25.11L259.36,21L288.18,16.78L317,15.87" class="px"/></g></g><g class="p3"><g><path d="M0,79.47L57.64,65.89L86.45,55.63L115.27,45.34L144.09,38.12L172.91,35.04L201.73,32.77L230.55,31.07L259.36,31.04L288.18,35.4L317,33.72" class="px"/></g></g><g class="p3"><g><path d="M0,40.9L28.82,38.34L57.64,37.63L86.45,35.87L115.27,36.08L144.09,31.65L172.91,29.24L230.55,25.17L259.36,23.35L288.18,21.86L317,18.2" class="px"/></g></g><g class="p3"><g><path d="M0,39.29L28.82,37L57.64,36.91L86.45,35.1L115.27,34.33L144.09,31.26L172.91,29.48L201.73,29.72L230.55,25.46L259.36,22.49L288.18,20.32L317,16.91" class="px"/></g></g><g class="p3"><g><path d="M0,73.08L28.82,59.82L57.64,54.26L86.45,48.4L115.27,44.71L144.09,45.24L172.91,43.31L201.73,44.32L230.55,44.29L288.18,33.35L317,30.69" class="px"/></g></g><g class="p3"><g><path d="M0,77.52L28.82,72.49L57.64,63.92L86.45,57.35L115.27,49.44L144.09,46.02L172.91,39L201.73,35.16L230.55,32.78L288.18,25.55L317,23.15" class="px"/></g></g><g class="p3"><g><path d="M0,73.86L28.82,64.78L57.64,56.75L86.45,56.75L115.27,49.59L172.91,48.25L201.73,48.63L230.55,49.14L259.36,48.07L288.18,43.3L317,39.87" class="px"/></g></g><g class="p3"><g><path d="M0,82.94L28.82,71.97L57.64,63.5L86.45,56.41L115.27,51.1L144.09,46.34L172.91,46.75L201.73,43.61L230.55,42.3L259.36,40.6L288.18,37.68L317,35.33" class="px"/></g></g><g class="p3"><g><path d="M0,64.01L57.64,46.25L86.45,44.32L115.27,46.2L144.09,45.9L230.55,43.13L259.36,39.18L317,33.37" class="px"/></g></g><g class="p3"><g><path d="M0,60.41L28.82,53.63L57.64,49.76L86.45,49.68L115.27,47.77L144.09,44.35L172.91,44.07L230.55,36.41L259.36,31.98L288.18,27.43L317,23.66" class="px"/></g></g><g class="p3"><g><path d="M0,62.29L28.82,57.17L57.64,48.16L115.27,38.13L144.09,34.18L172.91,28.5L201.73,26.71L230.55,24.72L259.36,21.15L317,14.69" class="px"/></g></g><g class="p3"><g><path d="M0,41.7L57.64,37.21L86.45,34.86L144.09,31.06L172.91,28.14L230.55,22.97L259.36,19.31L317,14.86" class="px"/></g></g><g class="p3"><g><path d="M0,48.37L57.64,43.31L86.45,39L115.27,35.99L144.09,31.2L172.91,28.77L201.73,25.2L230.55,23.35L259.36,19.37L317,12.43" class="px"/></g></g><g class="p3"><g><path d="M0,125.8L28.82,112.44L57.64,100.48L86.45,93.83L115.27,85.89L144.09,78.45L172.91,73.9L201.73,67.74L230.55,58.7L259.36,50.7L288.18,44.72L317,41.95" class="px"/></g></g><g class="p3"><g><path d="M0,49.68L28.82,45.99L57.64,44.98L144.09,39.03L172.91,35.22L201.73,32.34L230.55,28.14L259.36,25.77L288.18,22.04L317,19.2" class="px"/></g></g><g class="p3"><g><path d="M0,127.32L57.64,111.77L86.45,102.54L115.27,93.29L144.09,82.89L172.91,72.91L201.73,59.73L230.55,53.95L259.36,49.76L288.18,44.28L317,40.39" class="pz"/></g></g><g class="p3"><g><path d="M0,166.17L115.27,142.63L144.09,138.01L172.91,136.64L201.73,136.75L230.55,134.54L259.36,133.6L288.18,133.48L317,128.34" class="pz"/></g></g><g class="p3"><g><path d="M0,141.75L115.27,115.61L144.09,109.13L172.91,104.03L201.73,99.77L230.55,95.07L259.36,92.51L288.18,93.62L317,86.71" class="pz"/></g></g><g class="p3"><g><path d="M0,113.8L57.64,102.2L86.45,96.91L115.27,88.81L144.09,79.01L201.73,66.21L230.55,68.82L259.36,99.12L288.18,116.74L317,104.56" class="pz"/></g></g><g class="p3"><g><path d="M0,160.34L115.27,125.79L144.09,118.21L172.91,112.31L201.73,108.04L230.55,105.95L259.36,105.76L288.18,104.79L317,99.9" class="pz"/></g></g><g class="p3"><g><path d="M0,139.35L86.45,125.91L115.27,124.4L144.09,118.89L172.91,114.25L201.73,112.04L230.55,122.38L259.36,120.63L288.18,114.58L317,107.97" class="pz"/></g></g><g class="p3"><g><path d="M0,140.86L28.82,135.19L57.64,128.61L144.09,108.64L172.91,97.92L201.73,91.9L230.55,93.89L288.18,107.15L317,105.44" class="pz"/></g></g><g class="p3"><g><path d="M0,149.96L115.27,126.18L144.09,116.32L172.91,111.79L201.73,105.28L230.55,108.52L259.36,118.42L288.18,126.63L317,122.37" class="pz"/></g></g><g class="p3"><g><path d="M0,142.14L86.45,125.76L115.27,119.9L144.09,114.51L172.91,108.16L201.73,103.6L230.55,101.6L259.36,102.04L288.18,105.16L317,104.79" class="pz"/></g></g><g class="p3"><g><path d="M0,134.34L28.82,129.15L57.64,123.18L86.45,117.22L115.27,109.86L201.73,92.07L230.55,83.11L259.36,75.02L288.18,68.13L317,61.66" class="pz"/></g></g><g class="p3"><g><path d="M0,139.02L57.64,130.16L86.45,124.4L144.09,113.26L172.91,113.31L201.73,114.42L230.55,119.97L259.36,128.77L288.18,121.7L317,117.25" class="pz"/></g></g><g class="p3"><g><path d="M0,130.19L28.82,121.44L57.64,111.38L86.45,100.66L115.27,92.13L144.09,89.99L172.91,86.81L201.73,84.5L230.55,87.59L259.36,97.91L288.18,97.89L317,90.89" class="pz"/></g></g><g class="p3"><g><path d="M0,135.05L28.82,129.12L57.64,121.8L144.09,99.66L172.91,94.88L201.73,92.88L230.55,100.64L259.36,112.7L288.18,116.15L317,111.7" class="pz"/></g></g><g class="p3"><g><path d="M0,151.9L57.64,137.38L86.45,130.3L172.91,110.26L201.73,106.6L259.36,97.33L288.18,96.69L317,92.47" class="pz"/></g></g><g class="p3"><g><path d="M0,130.84L86.45,108.83L115.27,103.34L144.09,96.85L172.91,88.86L259.36,55.51L288.18,47.81L317,43.26" class="pz"/></g></g><g class="p3"><g><path d="M0,152.88L172.91,125.58L201.73,119.62L230.55,114.03L259.36,111.94L288.18,108.66L317,102.03" class="pz"/></g></g><g class="p3"><g><path d="M0,148.58L86.45,129.96L115.27,124.15L144.09,122.98L172.91,124.9L201.73,117.27L230.55,106.75L259.36,96.68L288.18,91.14L317,82.81" class="pz"/></g></g><g class="p3"><g><path d="M0,154.08L28.82,146.38L57.64,136.29L86.45,130.18L115.27,126.01L144.09,123.05L172.91,121.85L201.73,116.59L230.55,112.4L288.18,104.57L317,97.96" class="pz"/></g></g><g class="p3"><g><path d="M0,145.38L28.82,139.44L57.64,135.01L144.09,98.43L172.91,87.2L201.73,76.41L230.55,72.92L259.36,75.61L288.18,86.61L317,86.69" class="pz"/></g></g><g class="p3"><g><path d="M0,166.21L57.64,154.62L86.45,148.79L115.27,141.5L144.09,130.99L201.73,108.91L230.55,98.86L259.36,89.29L288.18,82.81L317,78.62" class="pz"/></g></g><g class="p3"><g><path d="M0,127.1L115.27,107.1L144.09,101.5L230.55,84.41L259.36,81.27L288.18,81.58L317,76.91" class="pz"/></g></g><g class="p3"><g><path d="M0,155.48L57.64,149.1L86.45,144.8L115.27,139.91L144.09,134.2L172.91,127.87L201.73,119.95L259.36,102.4L288.18,95.79L317,88.86" class="pz"/></g></g><g class="p3"><g><path d="M0,158.78L144.09,144.01L172.91,138.47L230.55,126.75L259.36,121.97L288.18,120.1L317,117.47" class="pz"/></g></g><g class="p3"><g><path d="M0,129.72L28.82,122.53L57.64,112.82L172.91,80.65L201.73,78.95L230.55,79.11L259.36,93.62L288.18,103.77L317,94.5" class="pz"/></g></g><g class="p3"><g><path d="M0,130.11L57.64,113.42L86.45,111.21L115.27,107.42L144.09,100.16L172.91,91.62L201.73,85.37L230.55,77.92L259.36,90.19L288.18,122.81L317,128.76" class="pz"/></g></g><g class="p3"><g><path d="M0,140.99L115.27,128.69L144.09,125.27L201.73,118.54L230.55,134.08L288.18,125.3L317,119.58" class="pz"/></g></g><g class="p3"><g><path d="M0,128.37L115.27,98.48L144.09,84.59L172.91,70.57L201.73,58.44L230.55,50.94L259.36,42.61L317,35.48" class="pz"/></g></g><g class="p3"><g><path d="M0,146.34L57.64,133.95L86.45,127.9L172.91,109.79L201.73,108.66L259.36,91.92L288.18,85.05L317,78.64" class="pz"/></g></g><g class="p3"><g><path d="M0,147.6L57.64,141.2L86.45,137.99L115.27,131.21L144.09,125.26L230.55,108.45L259.36,114.17L288.18,121.57L317,111.77" class="pz"/></g></g><g class="p3"><g><path d="M0,155.25L144.09,131.37L172.91,124.82L201.73,117.54L230.55,111.52L259.36,107.01L288.18,101.32L317,93.44" class="pz"/></g></g><g class="p3"><g><path d="M0,134.85L57.64,123.83L86.45,117.76L115.27,111.37L144.09,104.19L201.73,88.45L230.55,81.94L259.36,75.7L288.18,70.3L317,64.59" class="pz"/></g></g><g class="p3"><g><path d="M0,103.79L28.82,82.66L57.64,76.25L115.27,68.22L144.09,62.32L201.73,50.98L230.55,47.99L317,38.9" class="pz"/></g></g><g class="p3"><g><path d="M0,127.92L115.27,98.21L144.09,89.68L172.91,78.02L201.73,69.02L230.55,60.94L259.36,54.2L288.18,48.38L317,43.77" class="pz"/></g></g><g class="p3"><g><path d="M0,162.39L57.64,147.89L86.45,142.08L144.09,129.05L172.91,128.15L201.73,127.96L230.55,123.73L259.36,117.6L288.18,124.49L317,130.27" class="pz"/></g></g><g class="p3"><g><path d="M0,131.34L28.82,120.92L57.64,111.52L115.27,95.22L144.09,87.58L172.91,80.05L201.73,74.5L230.55,71.03L259.36,80.22L288.18,102.32L317,98.08" class="pz"/></g></g><g class="p3"><g><path d="M0,144.07L28.82,140.64L57.64,137.99L144.09,132.63L172.91,128.74L201.73,122.92L230.55,114.48L259.36,102.82L288.18,93.35L317,86.3" class="pz"/></g></g><g class="p3"><g><path d="M0,147.4L57.64,138.37L86.45,133.37L144.09,123.04L172.91,119.14L201.73,115.99L230.55,114.24L259.36,114.27L288.18,116.81L317,116.07" class="pz"/></g></g><g class="p3"><g><path d="M0,98.62L57.64,83.92L86.45,75.37L115.27,64.27L144.09,55.97L172.91,47.58L201.73,41.55L230.55,36.48L259.36,33.04L288.18,30.15L317,28.08" class="pz"/></g></g><g class="p3"><g><path d="M0,136.47L57.64,127.54L86.45,124.27L144.09,121.6L172.91,117.97L201.73,124.51L230.55,185.25L259.36,148.11L288.18,126.32L317,117.9" class="pz"/></g></g><g class="p3"><g><path d="M0,117.22L28.82,109.86L57.64,101.09L86.45,93.56L115.27,87.45L144.09,81.29L172.91,75.94L201.73,71.84L230.55,68.82L259.36,67.15L288.18,64.08L317,60.54" class="pz"/></g></g><g class="p3"><g><path d="M0,144.56L86.45,125.87L115.27,119.17L144.09,110.06L172.91,99.65L201.73,89.56L230.55,82.35L259.36,76.42L288.18,72.22L317,67.87" class="pz"/></g></g><g class="p3"><g><path d="M0,165.23L115.27,150.15L144.09,146.02L201.73,136.45L230.55,141.43L259.36,136.77L288.18,133.46L317,128.83" class="pz"/></g></g><g class="p3"><g><path d="M0,157.35L115.27,133.57L144.09,130.6L172.91,127.68L201.73,123.08L230.55,137.48L259.36,125.18L317,112.2" class="pz"/></g></g><g class="p3"><g><path d="M0,121.57L28.82,112.72L57.64,106.87L115.27,95.73L144.09,90.28L201.73,74.5L230.55,71.36L259.36,76.28L288.18,96.71L317,108.69" class="pz"/></g></g><g class="p3"><g><path d="M0,140.53L28.82,137.59L57.64,133.88L115.27,121.35L144.09,113.27L172.91,105.72L201.73,101.54L259.36,90.74L288.18,87.78L317,81.27" class="pz"/></g></g><g class="p3"><g><path d="M0,132.28L28.82,126.28L57.64,121.62L86.45,116.74L115.27,108.06L172.91,90.18L201.73,83.89L230.55,81.52L259.36,93.97L288.18,124.96L317,137.62" class="pz"/></g></g><g class="p3"><g><path d="M0,132.85L28.82,127.62L57.64,123.84L86.45,119.34L115.27,113.8L144.09,106.96L172.91,104.92L201.73,102.16L230.55,105.41L259.36,111.29L288.18,107.76L317,99.24" class="pz"/></g></g><g class="p3"><g><path d="M0,140.64L57.64,124.8L86.45,116.33L144.09,98.14L172.91,90.45L201.73,86.08L230.55,82.75L259.36,81.77L288.18,84.23L317,81.68" class="pz"/></g></g><g class="p3"><g><path d="M0,122.79L86.45,100.62L115.27,90.06L172.91,64.94L201.73,56.47L230.55,47.23L259.36,41.37L317,35.57" class="pz"/></g></g><g class="p3"><g><path d="M0,136.53L57.64,120.57L86.45,112.52L115.27,103.7L144.09,105.68L172.91,107.17L201.73,102.24L230.55,110.22L259.36,122.85L288.18,113.23L317,102.14" class="pz"/></g></g><g class="p3"><g><path d="M0,130.41L57.64,118.55L86.45,113.36L115.27,106.41L144.09,102.6L172.91,101.31L201.73,104.28L230.55,118.32L259.36,135.76L288.18,138.87L317,129.38" class="pz"/></g></g><g class="p3"><g><path d="M0,111.33L57.64,99.71L86.45,94.84L115.27,89.96L144.09,83.9L172.91,75.9L201.73,69.99L230.55,75.86L259.36,116.21L288.18,136.5L317,126.1" class="pz"/></g></g><g class="p3"><g><path d="M0,69.59L28.82,63.9L57.64,61.69L86.45,60.22L115.27,55.97L172.91,47.41L201.73,44.93L230.55,41.68L259.36,37.49L317,31.41" class="p11"/></g></g><g class="p3"><g><path d="M0,135.24L86.45,121.5L115.27,116.5L144.09,106.66L172.91,95.25L201.73,85.16L230.55,77.11L259.36,70.88L288.18,65.43L317,60.46" class="p11"/></g></g><g class="p3"><g><path d="M0,104L57.64,89.87L86.45,84.02L230.55,55.99L259.36,49.06L317,40.13" class="p11"/></g></g><g class="p3"><g><path d="M0,50.95L57.64,43.37L86.45,40.9L115.27,38.67L144.09,34.71L172.91,30.1L201.73,26.83L230.55,23.59L259.36,21.63L288.18,18.18L317,15.55" class="p11"/></g></g><g class="p3"><g><path d="M0,92.61L28.82,88.66L57.64,83.15L86.45,75.42L115.27,66.74L172.91,45.56L201.73,39.82L259.36,29.94L288.18,23.86L317,21.8" class="p11"/></g></g><g class="p3"><g><path d="M0,104.81L28.82,91.5L57.64,83.34L86.45,77.09L115.27,72.15L144.09,65.57L172.91,57.19L201.73,53.87L230.55,51.93L259.36,46.31L288.18,42.23L317,38.64" class="p11"/></g></g><g class="p3"><g><path d="M0,85.29L86.45,60.85L115.27,53.63L172.91,36.97L201.73,33.1L230.55,30.24L259.36,25.64L317,21.12" class="p11"/></g></g><g class="p3"><g><path d="M0,78.7L86.45,52.32L115.27,45.09L144.09,39.36L172.91,36.18L230.55,34.11L259.36,28.94L317,22.63" class="p11"/></g></g><g class="p3"><g><path d="M0,118.84L57.64,96.44L86.45,86.64L115.27,78.08L144.09,71.66L172.91,65.89L201.73,59L230.55,51.83L259.36,47.36L288.18,44.72L317,40.59" class="p11"/></g></g><g class="p3"><g><path d="M0,111.61L28.82,102.69L57.64,92.92L115.27,80.56L144.09,73.08L201.73,55.47L230.55,48.39L259.36,40.36L288.18,34.82L317,32.38" class="p11"/></g></g><g class="p3"><g><path d="M0,120.82L28.82,110.98L57.64,99.86L86.45,89.31L115.27,82.31L144.09,86.81L172.91,87.08L201.73,67.6L230.55,56.76L259.36,48.62L288.18,45.05L317,41.65" class="p11"/></g></g><g class="p3"><g><path d="M0,130.45L28.82,124.15L57.64,115.78L86.45,106.68L115.27,95.61L172.91,82.52L201.73,74.65L230.55,66.95L259.36,58.18L288.18,50.28L317,46.47" class="p11"/></g></g><g class="p3"><g><path d="M0,143.67L57.64,125.79L86.45,117.9L144.09,106.95L172.91,102.38L201.73,95.91L230.55,91.59L288.18,82.52L317,74.26" class="p11"/></g></g><g class="p3"><g><path d="M0,130.78L28.82,122.59L57.64,112.55L115.27,95.17L144.09,84.71L201.73,63.62L230.55,57.95L259.36,54.2L288.18,51.5L317,46.65" class="p11"/></g></g><g class="p3"><g><path d="M0,81.35L28.82,69.22L57.64,60.29L86.45,54.64L115.27,50.21L172.91,43.64L201.73,41.97L230.55,41.98L259.36,40.51L288.18,41.15L317,39.6" class="p11"/></g></g><g class="p3"><g><path d="M0,104.38L28.82,91.29L57.64,82.04L86.45,76.65L115.27,69.96L144.09,62.01L172.91,54.95L259.36,36.32L288.18,32.66L317,28.81" class="p11"/></g></g><g class="p3"><g><path d="M0,129.58L86.45,101.12L115.27,91.4L144.09,84.5L172.91,79.07L201.73,71.01L230.55,59.6L288.18,44.75L317,38.61" class="p11"/></g></g><g class="p3"><g><path d="M0,91.28L28.82,79.36L57.64,71.58L144.09,51.16L172.91,45.83L288.18,33.22L317,30.77" class="p11"/></g></g><g class="p3"><g><path d="M0,69.1L28.82,67.47L57.64,64.01L86.45,62.25L115.27,59.68L201.73,55.03L230.55,52.52L317,42.02" class="p11"/></g></g><g class="p3"><g><path d="M0,124.86L28.82,117.84L57.64,109.41L86.45,102.43L115.27,90.52L172.91,72.8L201.73,64.68L230.55,57.77L259.36,52.04L317,43.01" class="p11"/></g></g><g class="p3"><g><path d="M0,64.25L28.82,51.58L57.64,48.37L86.45,43.96L115.27,40.81L144.09,37L172.91,36.08L201.73,33.46L230.55,35.6L259.36,32.61L288.18,24.1L317,21.22" class="p11"/></g></g><g class="p3"><g><path d="M0,79.66L28.82,71.63L57.64,62.41L115.27,59.43L144.09,52.29L230.55,47.65L259.36,48.83L288.18,50.28L317,47.77" class="p11"/></g></g><g class="p3"><g><path d="M0,51.88L28.82,48.75L57.64,46.61L115.27,43.25L144.09,37.18L172.91,33.41L201.73,32.3L230.55,29.12L259.36,26.98L288.18,25.49L317,22.72" class="p11"/></g></g><g class="p3"><g><path d="M0,58.92L57.64,52.43L86.45,51.79L115.27,51.18L144.09,48.78L201.73,41.53L230.55,39.05L259.36,34.68L288.18,31.45L317,28.25" class="p11"/></g></g><g class="p3"><g><path d="M0,91.59L86.45,66.63L115.27,59.99L144.09,54.8L172.91,51.53L201.73,46.67L230.55,43.82L259.36,40.85L288.18,39.01L317,36.09" class="p11"/></g></g></g></g></g><path d="M0,0" class="p4"/><path d="M0,0" class="p4"/><g><g><text text-anchor="middle" x="0" y="238" transform="translate(88.11,0)" class="p5">1960</text></g><g><text text-anchor="middle" x="0" y="238" class="p5" transform="translate(203.38,0)">1980</text></g><g><text text-anchor="middle" x="0" y="238" class="p5" transform="translate(318.65,0)">2000</text></g></g><g><g><text text-anchor="end" x="41" y="4.2" transform="translate(0,166.47)" class="p5">40</text></g><g><text text-anchor="end" x="41" y="4.2" class="p5" transform="translate(0,106.98)">60</text></g><g><text text-anchor="end" x="41" y="4.2" class="p5" transform="translate(0,47.49)">80</text></g></g></g></g></svg><svg width="466" height="266"><defs><clipPath id="p3c1"><rect width="101" height="105" x="0" y="0"/></clipPath></defs><g><g transform="translate(-0.5,0)translate(365,30)"><rect shape-rendering="crispEdges" width="101" height="105" x="0" y="0" class="pb"/><g clip-path="url(#p3c1)"><text text-anchor="start" x="2" y="19.20" class="pc">continent</text><g><g transform="translate(0,32.7)" class="pe"><text text-anchor="start" x="40" y="5.68" class="p5">Asia</text><g class="pe"><g><path d="M5,0h30" class="p13"/></g></g><rect x="0" y="-9.5" width="95.77" height="19" class="pf"/></g></g><g><g transform="translate(0,51.7)" class="pe"><text text-anchor="start" x="40" y="5.68" class="p5">Europe</text><g class="pe"><g><path d="M5,0h30" class="p15"/></g></g><rect x="0" y="-9.5" width="95.77" height="19" class="pf"/></g></g><g><g transform="translate(0,70.7)" class="pe"><text text-anchor="start" x="40" y="5.68" class="p5">Africa</text><g class="pe"><g><path d="M5,0h30" class="p17"/></g></g><rect x="0" y="-9.5" width="95.77" height="19" class="pf"/></g></g><g><g transform="translate(0,89.7)" class="pe"><text text-anchor="start" x="40" y="5.68" class="p5">Americas</text><g class="pe"><g><path d="M5,0h30" class="p19"/></g></g><rect x="0" y="-9.5" width="95.77" height="19" class="pf"/></g></g></g><rect rx="20" ry="3" width="0" height="0" x="0" y="0" class="pj"/></g><g transform="translate(0,-1.2)translate(0,-2.3)"><text x="200.5" y="265.3" text-anchor="middle" class="pn">year</text></g><g transform="translate(2,0)translate(6.68,0)"><text transform="rotate(-90,6.32,127.5)" x="6.32" y="127.5" text-anchor="middle" class="pn">lifeExp</text></g></g></svg></div></div></div>
<div class="cnr" style="left:0;background:radial-gradient(circle at 100% 0,rgba(0,0,0,0) 4.1px,#a6a6a6 4.8px,#a6a6a6 5.3px,#c9c9c9 6px)"></div><div class="cnr" style="right:0;background:radial-gradient(circle at 0 0,rgba(0,0,0,0) 4.1px,#a6a6a6 4.8px,#a6a6a6 5.3px,#c9c9c9 6px)"></div>

</body></html>
